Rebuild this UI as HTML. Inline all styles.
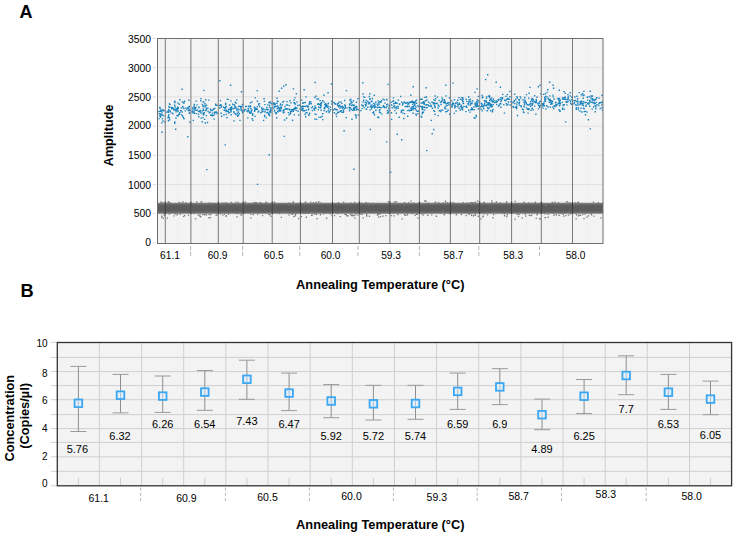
<!DOCTYPE html>
<html><head><meta charset="utf-8"><style>
html,body{margin:0;padding:0;background:#fff;}
svg{display:block;font-family:"Liberation Sans", sans-serif;}
</style></head><body>
<svg width="739" height="538" viewBox="0 0 739 538" font-family='"Liberation Sans", sans-serif' fill="#000">
<rect x="157.5" y="38.5" width="445.5" height="205.0" fill="#f3f3f3"/>
<line x1="157.5" y1="213.8" x2="603.0" y2="213.8" stroke="#e0e0e0" stroke-width="1"/>
<line x1="157.5" y1="184.6" x2="603.0" y2="184.6" stroke="#e0e0e0" stroke-width="1"/>
<line x1="157.5" y1="155.4" x2="603.0" y2="155.4" stroke="#e0e0e0" stroke-width="1"/>
<line x1="157.5" y1="126.1" x2="603.0" y2="126.1" stroke="#e0e0e0" stroke-width="1"/>
<line x1="157.5" y1="96.9" x2="603.0" y2="96.9" stroke="#e0e0e0" stroke-width="1"/>
<line x1="157.5" y1="67.7" x2="603.0" y2="67.7" stroke="#e0e0e0" stroke-width="1"/>
<line x1="161.4" y1="38.5" x2="161.4" y2="243.0" stroke="#e2e2e2" stroke-width="0.8" stroke-dasharray="1.5,2.5"/>
<line x1="178.1" y1="38.5" x2="178.1" y2="243.0" stroke="#e2e2e2" stroke-width="0.8" stroke-dasharray="1.5,2.5"/>
<line x1="204.6" y1="38.5" x2="204.6" y2="243.0" stroke="#e2e2e2" stroke-width="0.8" stroke-dasharray="1.5,2.5"/>
<line x1="230.8" y1="38.5" x2="230.8" y2="243.0" stroke="#e2e2e2" stroke-width="0.8" stroke-dasharray="1.5,2.5"/>
<line x1="257.7" y1="38.5" x2="257.7" y2="243.0" stroke="#e2e2e2" stroke-width="0.8" stroke-dasharray="1.5,2.5"/>
<line x1="286.3" y1="38.5" x2="286.3" y2="243.0" stroke="#e2e2e2" stroke-width="0.8" stroke-dasharray="1.5,2.5"/>
<line x1="316.4" y1="38.5" x2="316.4" y2="243.0" stroke="#e2e2e2" stroke-width="0.8" stroke-dasharray="1.5,2.5"/>
<line x1="345.9" y1="38.5" x2="345.9" y2="243.0" stroke="#e2e2e2" stroke-width="0.8" stroke-dasharray="1.5,2.5"/>
<line x1="374.6" y1="38.5" x2="374.6" y2="243.0" stroke="#e2e2e2" stroke-width="0.8" stroke-dasharray="1.5,2.5"/>
<line x1="404.6" y1="38.5" x2="404.6" y2="243.0" stroke="#e2e2e2" stroke-width="0.8" stroke-dasharray="1.5,2.5"/>
<line x1="434.9" y1="38.5" x2="434.9" y2="243.0" stroke="#e2e2e2" stroke-width="0.8" stroke-dasharray="1.5,2.5"/>
<line x1="465.0" y1="38.5" x2="465.0" y2="243.0" stroke="#e2e2e2" stroke-width="0.8" stroke-dasharray="1.5,2.5"/>
<line x1="495.6" y1="38.5" x2="495.6" y2="243.0" stroke="#e2e2e2" stroke-width="0.8" stroke-dasharray="1.5,2.5"/>
<line x1="526.5" y1="38.5" x2="526.5" y2="243.0" stroke="#e2e2e2" stroke-width="0.8" stroke-dasharray="1.5,2.5"/>
<line x1="556.9" y1="38.5" x2="556.9" y2="243.0" stroke="#e2e2e2" stroke-width="0.8" stroke-dasharray="1.5,2.5"/>
<line x1="587.8" y1="38.5" x2="587.8" y2="243.0" stroke="#e2e2e2" stroke-width="0.8" stroke-dasharray="1.5,2.5"/>
<defs><linearGradient id="gb" x1="0" y1="0" x2="0" y2="1"><stop offset="0" stop-color="#a0a0a0"/><stop offset="0.12" stop-color="#6c6c6c"/><stop offset="0.3" stop-color="#5c5c5c"/><stop offset="0.7" stop-color="#5c5c5c"/><stop offset="0.88" stop-color="#6c6c6c"/><stop offset="1" stop-color="#a0a0a0"/></linearGradient></defs>
<rect x="157.5" y="202.6" width="445.5" height="11.3" fill="url(#gb)"/>
<path d="M160.5 201.4h1.3v1.3h-1.3zM160.3 201.6h1.3v1.3h-1.3zM163.6 213.0h1.3v1.3h-1.3zM162.3 202.0h1.3v1.3h-1.3zM162.1 203.4h1.3v1.3h-1.3zM163.7 214.1h1.3v1.3h-1.3zM161.4 215.4h1.3v1.3h-1.3zM164.1 214.0h1.3v1.3h-1.3zM162.7 217.8h1.3v1.3h-1.3zM161.1 216.7h1.3v1.3h-1.3zM164.3 215.1h1.3v1.3h-1.3zM180.9 202.3h1.3v1.3h-1.3zM175.2 213.4h1.3v1.3h-1.3zM167.3 212.0h1.3v1.3h-1.3zM172.0 211.8h1.3v1.3h-1.3zM178.3 201.7h1.3v1.3h-1.3zM167.2 202.3h1.3v1.3h-1.3zM178.4 202.6h1.3v1.3h-1.3zM169.3 202.0h1.3v1.3h-1.3zM173.4 215.3h1.3v1.3h-1.3zM168.6 202.7h1.3v1.3h-1.3zM174.5 212.5h1.3v1.3h-1.3zM176.6 214.2h1.3v1.3h-1.3zM182.5 201.3h1.3v1.3h-1.3zM184.0 214.9h1.3v1.3h-1.3zM177.5 212.3h1.3v1.3h-1.3zM185.1 202.3h1.3v1.3h-1.3zM179.5 213.8h1.3v1.3h-1.3zM187.9 214.5h1.3v1.3h-1.3zM167.8 201.1h1.3v1.3h-1.3zM168.7 213.4h1.3v1.3h-1.3zM183.0 215.7h1.3v1.3h-1.3zM166.6 217.4h1.3v1.3h-1.3zM216.5 214.2h1.3v1.3h-1.3zM200.4 201.4h1.3v1.3h-1.3zM216.7 203.0h1.3v1.3h-1.3zM208.6 214.0h1.3v1.3h-1.3zM201.1 201.3h1.3v1.3h-1.3zM194.0 212.6h1.3v1.3h-1.3zM202.0 214.0h1.3v1.3h-1.3zM201.6 203.3h1.3v1.3h-1.3zM208.7 202.2h1.3v1.3h-1.3zM215.4 214.5h1.3v1.3h-1.3zM211.3 202.8h1.3v1.3h-1.3zM206.1 203.4h1.3v1.3h-1.3zM205.9 214.2h1.3v1.3h-1.3zM203.8 214.2h1.3v1.3h-1.3zM213.2 202.9h1.3v1.3h-1.3zM214.0 202.8h1.3v1.3h-1.3zM196.1 201.2h1.3v1.3h-1.3zM199.4 215.8h1.3v1.3h-1.3zM204.5 213.8h1.3v1.3h-1.3zM197.7 214.4h1.3v1.3h-1.3zM199.2 214.2h1.3v1.3h-1.3zM208.3 217.2h1.3v1.3h-1.3zM194.9 218.2h1.3v1.3h-1.3zM200.1 216.1h1.3v1.3h-1.3zM209.7 217.0h1.3v1.3h-1.3zM210.2 214.0h1.3v1.3h-1.3zM220.2 203.9h1.3v1.3h-1.3zM225.1 202.5h1.3v1.3h-1.3zM237.5 212.9h1.3v1.3h-1.3zM223.4 202.5h1.3v1.3h-1.3zM219.8 213.3h1.3v1.3h-1.3zM222.9 203.3h1.3v1.3h-1.3zM230.4 212.1h1.3v1.3h-1.3zM237.5 201.8h1.3v1.3h-1.3zM230.8 201.7h1.3v1.3h-1.3zM241.0 214.4h1.3v1.3h-1.3zM235.3 201.4h1.3v1.3h-1.3zM240.4 214.1h1.3v1.3h-1.3zM225.5 215.0h1.3v1.3h-1.3zM235.3 212.7h1.3v1.3h-1.3zM226.3 202.6h1.3v1.3h-1.3zM227.8 213.8h1.3v1.3h-1.3zM223.9 213.5h1.3v1.3h-1.3zM222.1 214.5h1.3v1.3h-1.3zM221.3 202.5h1.3v1.3h-1.3zM225.5 215.6h1.3v1.3h-1.3zM236.3 216.2h1.3v1.3h-1.3zM269.3 214.3h1.3v1.3h-1.3zM260.1 201.9h1.3v1.3h-1.3zM256.5 202.5h1.3v1.3h-1.3zM259.5 201.9h1.3v1.3h-1.3zM270.3 215.8h1.3v1.3h-1.3zM244.9 201.8h1.3v1.3h-1.3zM252.6 214.0h1.3v1.3h-1.3zM265.9 202.1h1.3v1.3h-1.3zM265.3 201.5h1.3v1.3h-1.3zM244.6 201.5h1.3v1.3h-1.3zM255.0 202.5h1.3v1.3h-1.3zM253.5 202.1h1.3v1.3h-1.3zM266.8 203.0h1.3v1.3h-1.3zM250.7 202.8h1.3v1.3h-1.3zM257.2 213.5h1.3v1.3h-1.3zM250.3 213.5h1.3v1.3h-1.3zM253.7 202.6h1.3v1.3h-1.3zM270.9 203.5h1.3v1.3h-1.3zM268.2 213.8h1.3v1.3h-1.3zM265.4 202.1h1.3v1.3h-1.3zM245.9 203.1h1.3v1.3h-1.3zM255.2 202.0h1.3v1.3h-1.3zM261.9 215.0h1.3v1.3h-1.3zM250.2 217.5h1.3v1.3h-1.3zM286.3 203.0h1.3v1.3h-1.3zM288.6 202.6h1.3v1.3h-1.3zM294.4 215.3h1.3v1.3h-1.3zM288.4 214.5h1.3v1.3h-1.3zM293.7 203.9h1.3v1.3h-1.3zM292.2 213.0h1.3v1.3h-1.3zM293.2 216.0h1.3v1.3h-1.3zM291.6 213.6h1.3v1.3h-1.3zM273.5 201.5h1.3v1.3h-1.3zM292.7 201.9h1.3v1.3h-1.3zM295.3 213.1h1.3v1.3h-1.3zM288.2 212.4h1.3v1.3h-1.3zM276.1 203.3h1.3v1.3h-1.3zM292.5 203.1h1.3v1.3h-1.3zM284.2 211.9h1.3v1.3h-1.3zM292.6 201.2h1.3v1.3h-1.3zM274.3 202.6h1.3v1.3h-1.3zM279.0 212.9h1.3v1.3h-1.3zM288.0 204.0h1.3v1.3h-1.3zM283.0 211.7h1.3v1.3h-1.3zM294.7 213.9h1.3v1.3h-1.3zM290.3 212.9h1.3v1.3h-1.3zM280.6 216.7h1.3v1.3h-1.3zM298.1 218.0h1.3v1.3h-1.3zM315.3 201.7h1.3v1.3h-1.3zM311.0 214.6h1.3v1.3h-1.3zM319.8 214.1h1.3v1.3h-1.3zM306.5 203.0h1.3v1.3h-1.3zM304.4 202.2h1.3v1.3h-1.3zM312.7 202.0h1.3v1.3h-1.3zM307.6 212.6h1.3v1.3h-1.3zM310.2 201.5h1.3v1.3h-1.3zM327.1 203.2h1.3v1.3h-1.3zM300.7 216.0h1.3v1.3h-1.3zM318.1 201.5h1.3v1.3h-1.3zM331.0 211.8h1.3v1.3h-1.3zM304.9 212.8h1.3v1.3h-1.3zM303.0 212.8h1.3v1.3h-1.3zM311.8 212.3h1.3v1.3h-1.3zM329.6 213.2h1.3v1.3h-1.3zM315.9 202.2h1.3v1.3h-1.3zM317.9 200.9h1.3v1.3h-1.3zM323.1 213.3h1.3v1.3h-1.3zM315.6 213.7h1.3v1.3h-1.3zM305.2 201.3h1.3v1.3h-1.3zM331.4 214.9h1.3v1.3h-1.3zM320.0 202.4h1.3v1.3h-1.3zM313.7 213.4h1.3v1.3h-1.3zM315.9 213.4h1.3v1.3h-1.3zM305.7 216.6h1.3v1.3h-1.3zM326.1 217.6h1.3v1.3h-1.3zM311.4 214.6h1.3v1.3h-1.3zM316.6 217.9h1.3v1.3h-1.3zM336.9 212.9h1.3v1.3h-1.3zM355.9 212.1h1.3v1.3h-1.3zM357.3 214.5h1.3v1.3h-1.3zM337.8 201.9h1.3v1.3h-1.3zM350.2 214.3h1.3v1.3h-1.3zM339.6 215.9h1.3v1.3h-1.3zM345.6 214.0h1.3v1.3h-1.3zM333.9 214.9h1.3v1.3h-1.3zM352.0 214.6h1.3v1.3h-1.3zM346.3 215.1h1.3v1.3h-1.3zM344.3 213.7h1.3v1.3h-1.3zM341.8 203.0h1.3v1.3h-1.3zM355.4 213.3h1.3v1.3h-1.3zM354.1 201.8h1.3v1.3h-1.3zM349.2 203.5h1.3v1.3h-1.3zM352.6 215.2h1.3v1.3h-1.3zM343.0 201.5h1.3v1.3h-1.3zM351.0 215.0h1.3v1.3h-1.3zM349.9 213.3h1.3v1.3h-1.3zM350.2 202.6h1.3v1.3h-1.3zM354.5 212.3h1.3v1.3h-1.3zM347.4 215.2h1.3v1.3h-1.3zM354.3 217.5h1.3v1.3h-1.3zM354.2 214.7h1.3v1.3h-1.3zM379.3 212.3h1.3v1.3h-1.3zM385.9 211.6h1.3v1.3h-1.3zM385.3 214.9h1.3v1.3h-1.3zM377.5 214.0h1.3v1.3h-1.3zM377.4 213.1h1.3v1.3h-1.3zM379.4 213.3h1.3v1.3h-1.3zM360.3 213.5h1.3v1.3h-1.3zM366.0 214.1h1.3v1.3h-1.3zM367.7 203.2h1.3v1.3h-1.3zM360.8 202.5h1.3v1.3h-1.3zM368.2 204.4h1.3v1.3h-1.3zM366.0 202.5h1.3v1.3h-1.3zM366.1 215.4h1.3v1.3h-1.3zM372.0 203.5h1.3v1.3h-1.3zM376.7 214.4h1.3v1.3h-1.3zM366.2 210.9h1.3v1.3h-1.3zM387.8 201.0h1.3v1.3h-1.3zM378.4 213.1h1.3v1.3h-1.3zM365.2 202.0h1.3v1.3h-1.3zM367.9 202.8h1.3v1.3h-1.3zM372.5 202.8h1.3v1.3h-1.3zM382.3 215.4h1.3v1.3h-1.3zM381.5 204.2h1.3v1.3h-1.3zM361.4 213.8h1.3v1.3h-1.3zM378.0 216.5h1.3v1.3h-1.3zM368.8 215.6h1.3v1.3h-1.3zM362.7 217.3h1.3v1.3h-1.3zM379.9 215.9h1.3v1.3h-1.3zM391.0 211.8h1.3v1.3h-1.3zM393.2 215.2h1.3v1.3h-1.3zM403.9 214.1h1.3v1.3h-1.3zM403.6 202.5h1.3v1.3h-1.3zM405.1 214.7h1.3v1.3h-1.3zM397.3 213.9h1.3v1.3h-1.3zM416.9 213.5h1.3v1.3h-1.3zM394.7 203.1h1.3v1.3h-1.3zM390.6 215.0h1.3v1.3h-1.3zM391.0 203.2h1.3v1.3h-1.3zM403.3 204.1h1.3v1.3h-1.3zM414.4 214.8h1.3v1.3h-1.3zM403.9 201.9h1.3v1.3h-1.3zM396.0 201.2h1.3v1.3h-1.3zM406.9 214.1h1.3v1.3h-1.3zM406.3 212.8h1.3v1.3h-1.3zM411.7 212.9h1.3v1.3h-1.3zM395.0 201.3h1.3v1.3h-1.3zM410.4 200.5h1.3v1.3h-1.3zM393.5 201.4h1.3v1.3h-1.3zM412.8 202.4h1.3v1.3h-1.3zM408.1 202.3h1.3v1.3h-1.3zM415.8 213.6h1.3v1.3h-1.3zM401.5 218.2h1.3v1.3h-1.3zM417.3 217.5h1.3v1.3h-1.3zM421.0 213.1h1.3v1.3h-1.3zM427.5 202.4h1.3v1.3h-1.3zM442.3 202.6h1.3v1.3h-1.3zM443.7 202.9h1.3v1.3h-1.3zM434.8 203.2h1.3v1.3h-1.3zM421.8 203.6h1.3v1.3h-1.3zM434.6 201.4h1.3v1.3h-1.3zM440.7 212.3h1.3v1.3h-1.3zM431.5 203.8h1.3v1.3h-1.3zM425.3 200.6h1.3v1.3h-1.3zM423.3 213.0h1.3v1.3h-1.3zM448.9 213.3h1.3v1.3h-1.3zM439.8 202.9h1.3v1.3h-1.3zM422.4 214.5h1.3v1.3h-1.3zM424.1 200.3h1.3v1.3h-1.3zM419.9 202.7h1.3v1.3h-1.3zM435.1 201.4h1.3v1.3h-1.3zM446.9 202.1h1.3v1.3h-1.3zM444.6 202.3h1.3v1.3h-1.3zM444.9 200.6h1.3v1.3h-1.3zM438.1 202.1h1.3v1.3h-1.3zM427.2 214.6h1.3v1.3h-1.3zM431.1 214.2h1.3v1.3h-1.3zM442.3 210.6h1.3v1.3h-1.3zM443.6 214.1h1.3v1.3h-1.3zM435.7 215.5h1.3v1.3h-1.3zM435.9 215.6h1.3v1.3h-1.3zM443.9 214.0h1.3v1.3h-1.3zM472.3 202.4h1.3v1.3h-1.3zM465.6 214.9h1.3v1.3h-1.3zM462.6 202.1h1.3v1.3h-1.3zM477.7 202.9h1.3v1.3h-1.3zM477.0 200.6h1.3v1.3h-1.3zM468.8 202.6h1.3v1.3h-1.3zM470.7 201.9h1.3v1.3h-1.3zM467.8 213.2h1.3v1.3h-1.3zM471.8 202.3h1.3v1.3h-1.3zM453.3 203.2h1.3v1.3h-1.3zM469.1 212.6h1.3v1.3h-1.3zM452.9 202.2h1.3v1.3h-1.3zM460.8 214.0h1.3v1.3h-1.3zM468.9 213.5h1.3v1.3h-1.3zM455.7 214.1h1.3v1.3h-1.3zM470.2 203.6h1.3v1.3h-1.3zM474.8 201.5h1.3v1.3h-1.3zM451.6 202.6h1.3v1.3h-1.3zM473.2 202.0h1.3v1.3h-1.3zM474.4 213.8h1.3v1.3h-1.3zM469.2 202.5h1.3v1.3h-1.3zM474.1 202.9h1.3v1.3h-1.3zM466.6 202.4h1.3v1.3h-1.3zM474.6 214.6h1.3v1.3h-1.3zM477.7 215.6h1.3v1.3h-1.3zM470.9 214.6h1.3v1.3h-1.3zM472.8 215.1h1.3v1.3h-1.3zM491.2 201.9h1.3v1.3h-1.3zM507.8 203.1h1.3v1.3h-1.3zM486.9 214.3h1.3v1.3h-1.3zM506.1 215.9h1.3v1.3h-1.3zM506.6 214.1h1.3v1.3h-1.3zM487.2 203.3h1.3v1.3h-1.3zM483.4 213.2h1.3v1.3h-1.3zM483.6 201.7h1.3v1.3h-1.3zM493.0 213.9h1.3v1.3h-1.3zM491.1 200.2h1.3v1.3h-1.3zM482.2 215.4h1.3v1.3h-1.3zM483.4 203.3h1.3v1.3h-1.3zM496.0 201.5h1.3v1.3h-1.3zM482.5 216.1h1.3v1.3h-1.3zM504.0 215.1h1.3v1.3h-1.3zM483.0 202.0h1.3v1.3h-1.3zM483.7 203.3h1.3v1.3h-1.3zM495.6 201.2h1.3v1.3h-1.3zM499.7 202.2h1.3v1.3h-1.3zM503.6 213.1h1.3v1.3h-1.3zM484.4 203.0h1.3v1.3h-1.3zM506.2 201.0h1.3v1.3h-1.3zM501.4 203.3h1.3v1.3h-1.3zM493.8 202.7h1.3v1.3h-1.3zM505.7 202.0h1.3v1.3h-1.3zM492.3 217.1h1.3v1.3h-1.3zM480.4 218.3h1.3v1.3h-1.3zM518.5 213.8h1.3v1.3h-1.3zM531.0 202.8h1.3v1.3h-1.3zM535.6 217.7h1.3v1.3h-1.3zM519.6 203.8h1.3v1.3h-1.3zM523.5 201.6h1.3v1.3h-1.3zM528.0 202.4h1.3v1.3h-1.3zM516.3 212.2h1.3v1.3h-1.3zM527.9 202.2h1.3v1.3h-1.3zM527.9 202.2h1.3v1.3h-1.3zM540.3 202.8h1.3v1.3h-1.3zM516.7 213.8h1.3v1.3h-1.3zM534.3 202.3h1.3v1.3h-1.3zM536.3 213.4h1.3v1.3h-1.3zM514.6 200.8h1.3v1.3h-1.3zM537.6 203.7h1.3v1.3h-1.3zM536.6 214.2h1.3v1.3h-1.3zM534.8 201.7h1.3v1.3h-1.3zM524.6 213.6h1.3v1.3h-1.3zM537.4 202.9h1.3v1.3h-1.3zM528.7 214.7h1.3v1.3h-1.3zM530.2 215.0h1.3v1.3h-1.3zM531.1 214.4h1.3v1.3h-1.3zM517.9 215.8h1.3v1.3h-1.3zM521.6 217.4h1.3v1.3h-1.3zM539.0 218.0h1.3v1.3h-1.3zM525.1 215.5h1.3v1.3h-1.3zM539.5 218.4h1.3v1.3h-1.3zM514.4 218.4h1.3v1.3h-1.3zM557.8 201.9h1.3v1.3h-1.3zM552.7 212.6h1.3v1.3h-1.3zM564.5 202.7h1.3v1.3h-1.3zM567.9 214.5h1.3v1.3h-1.3zM560.0 212.6h1.3v1.3h-1.3zM569.8 213.1h1.3v1.3h-1.3zM551.0 202.8h1.3v1.3h-1.3zM553.4 214.6h1.3v1.3h-1.3zM566.6 201.5h1.3v1.3h-1.3zM552.6 203.1h1.3v1.3h-1.3zM566.2 200.9h1.3v1.3h-1.3zM547.5 213.7h1.3v1.3h-1.3zM542.5 202.8h1.3v1.3h-1.3zM562.4 213.6h1.3v1.3h-1.3zM568.5 202.4h1.3v1.3h-1.3zM545.0 204.5h1.3v1.3h-1.3zM555.6 214.1h1.3v1.3h-1.3zM554.1 201.6h1.3v1.3h-1.3zM569.3 202.2h1.3v1.3h-1.3zM560.3 212.8h1.3v1.3h-1.3zM551.8 201.7h1.3v1.3h-1.3zM564.1 212.6h1.3v1.3h-1.3zM563.0 215.5h1.3v1.3h-1.3zM544.4 213.2h1.3v1.3h-1.3zM565.3 215.0h1.3v1.3h-1.3zM544.4 217.0h1.3v1.3h-1.3zM558.5 214.6h1.3v1.3h-1.3zM547.4 216.6h1.3v1.3h-1.3zM544.8 216.9h1.3v1.3h-1.3zM579.8 214.8h1.3v1.3h-1.3zM594.0 203.7h1.3v1.3h-1.3zM587.8 215.3h1.3v1.3h-1.3zM590.7 213.2h1.3v1.3h-1.3zM601.9 202.7h1.3v1.3h-1.3zM579.4 211.6h1.3v1.3h-1.3zM584.4 213.5h1.3v1.3h-1.3zM575.4 203.3h1.3v1.3h-1.3zM577.9 201.8h1.3v1.3h-1.3zM578.6 214.5h1.3v1.3h-1.3zM592.8 201.5h1.3v1.3h-1.3zM575.9 214.1h1.3v1.3h-1.3zM574.7 212.4h1.3v1.3h-1.3zM582.1 213.9h1.3v1.3h-1.3zM588.4 211.9h1.3v1.3h-1.3zM590.9 214.3h1.3v1.3h-1.3zM576.7 203.7h1.3v1.3h-1.3zM574.6 202.2h1.3v1.3h-1.3zM597.7 201.9h1.3v1.3h-1.3zM577.0 201.8h1.3v1.3h-1.3zM573.7 203.4h1.3v1.3h-1.3zM593.2 215.5h1.3v1.3h-1.3zM577.7 215.3h1.3v1.3h-1.3zM583.4 218.0h1.3v1.3h-1.3zM586.2 216.5h1.3v1.3h-1.3zM575.5 218.2h1.3v1.3h-1.3zM600.2 217.2h1.3v1.3h-1.3z" fill="#787878"/>
<path d="M160.0 116.4h1.4v1.4h-1.4zM158.4 117.9h1.4v1.4h-1.4zM161.3 111.4h1.4v1.4h-1.4zM161.1 113.7h1.4v1.4h-1.4zM158.2 110.9h1.4v1.4h-1.4zM158.6 113.2h1.4v1.4h-1.4zM160.6 113.6h1.4v1.4h-1.4zM159.4 110.4h1.4v1.4h-1.4zM161.8 118.2h1.4v1.4h-1.4zM160.4 110.6h1.4v1.4h-1.4zM164.0 121.2h1.4v1.4h-1.4zM159.8 115.1h1.4v1.4h-1.4zM158.9 115.4h1.4v1.4h-1.4zM163.0 115.2h1.4v1.4h-1.4zM159.1 106.8h1.4v1.4h-1.4zM160.3 109.3h1.4v1.4h-1.4zM161.3 114.0h1.4v1.4h-1.4zM159.3 113.1h1.4v1.4h-1.4zM162.2 108.9h1.4v1.4h-1.4zM161.6 114.3h1.4v1.4h-1.4zM160.8 110.0h1.4v1.4h-1.4zM162.3 120.3h1.4v1.4h-1.4zM159.5 107.5h1.4v1.4h-1.4zM163.3 110.0h1.4v1.4h-1.4zM162.4 109.5h1.4v1.4h-1.4zM161.1 122.2h1.4v1.4h-1.4zM174.0 122.5h1.4v1.4h-1.4zM188.1 99.6h1.4v1.4h-1.4zM167.7 115.6h1.4v1.4h-1.4zM179.1 112.1h1.4v1.4h-1.4zM173.9 101.8h1.4v1.4h-1.4zM174.2 101.8h1.4v1.4h-1.4zM167.4 110.2h1.4v1.4h-1.4zM168.0 109.1h1.4v1.4h-1.4zM167.4 117.1h1.4v1.4h-1.4zM183.3 107.8h1.4v1.4h-1.4zM182.1 115.6h1.4v1.4h-1.4zM176.5 108.0h1.4v1.4h-1.4zM174.1 100.6h1.4v1.4h-1.4zM188.3 106.1h1.4v1.4h-1.4zM177.6 115.0h1.4v1.4h-1.4zM171.0 108.2h1.4v1.4h-1.4zM175.3 117.3h1.4v1.4h-1.4zM187.7 107.2h1.4v1.4h-1.4zM175.4 110.1h1.4v1.4h-1.4zM172.4 113.2h1.4v1.4h-1.4zM179.0 113.7h1.4v1.4h-1.4zM182.7 116.9h1.4v1.4h-1.4zM174.9 109.4h1.4v1.4h-1.4zM171.3 112.3h1.4v1.4h-1.4zM181.5 111.3h1.4v1.4h-1.4zM166.1 111.4h1.4v1.4h-1.4zM172.5 107.5h1.4v1.4h-1.4zM169.3 103.8h1.4v1.4h-1.4zM173.4 108.6h1.4v1.4h-1.4zM168.8 117.1h1.4v1.4h-1.4zM181.5 101.3h1.4v1.4h-1.4zM183.5 101.0h1.4v1.4h-1.4zM188.6 112.5h1.4v1.4h-1.4zM182.1 105.7h1.4v1.4h-1.4zM175.2 108.3h1.4v1.4h-1.4zM177.3 107.6h1.4v1.4h-1.4zM189.3 111.8h1.4v1.4h-1.4zM176.3 114.8h1.4v1.4h-1.4zM168.2 114.0h1.4v1.4h-1.4zM179.3 99.1h1.4v1.4h-1.4zM180.5 107.4h1.4v1.4h-1.4zM167.5 111.2h1.4v1.4h-1.4zM181.0 114.3h1.4v1.4h-1.4zM188.6 105.8h1.4v1.4h-1.4zM168.6 106.9h1.4v1.4h-1.4zM177.5 115.2h1.4v1.4h-1.4zM173.3 109.3h1.4v1.4h-1.4zM169.2 110.0h1.4v1.4h-1.4zM177.2 102.4h1.4v1.4h-1.4zM182.3 106.9h1.4v1.4h-1.4zM188.6 109.7h1.4v1.4h-1.4zM174.4 106.3h1.4v1.4h-1.4zM183.9 100.5h1.4v1.4h-1.4zM172.9 108.7h1.4v1.4h-1.4zM186.0 108.4h1.4v1.4h-1.4zM178.2 113.6h1.4v1.4h-1.4zM171.1 107.6h1.4v1.4h-1.4zM178.7 103.5h1.4v1.4h-1.4zM180.5 109.9h1.4v1.4h-1.4zM184.6 110.2h1.4v1.4h-1.4zM171.5 107.0h1.4v1.4h-1.4zM175.4 111.0h1.4v1.4h-1.4zM177.6 107.1h1.4v1.4h-1.4zM183.3 118.1h1.4v1.4h-1.4zM177.1 109.5h1.4v1.4h-1.4zM170.4 106.7h1.4v1.4h-1.4zM185.1 107.4h1.4v1.4h-1.4zM183.1 102.7h1.4v1.4h-1.4zM167.7 120.1h1.4v1.4h-1.4zM168.2 105.9h1.4v1.4h-1.4zM177.3 110.8h1.4v1.4h-1.4zM189.3 109.8h1.4v1.4h-1.4zM187.5 109.8h1.4v1.4h-1.4zM174.0 104.6h1.4v1.4h-1.4zM168.7 103.2h1.4v1.4h-1.4zM175.1 109.3h1.4v1.4h-1.4zM187.0 107.0h1.4v1.4h-1.4zM176.2 108.7h1.4v1.4h-1.4zM188.4 108.5h1.4v1.4h-1.4zM183.1 102.6h1.4v1.4h-1.4zM167.8 111.7h1.4v1.4h-1.4zM169.6 111.1h1.4v1.4h-1.4zM179.9 110.0h1.4v1.4h-1.4zM176.9 106.5h1.4v1.4h-1.4zM189.2 121.6h1.4v1.4h-1.4zM174.2 121.2h1.4v1.4h-1.4zM168.9 119.1h1.4v1.4h-1.4zM216.4 104.7h1.4v1.4h-1.4zM208.1 99.4h1.4v1.4h-1.4zM202.5 108.2h1.4v1.4h-1.4zM213.8 111.5h1.4v1.4h-1.4zM197.9 107.2h1.4v1.4h-1.4zM198.9 110.4h1.4v1.4h-1.4zM198.1 116.1h1.4v1.4h-1.4zM202.2 116.9h1.4v1.4h-1.4zM200.5 117.4h1.4v1.4h-1.4zM203.2 101.4h1.4v1.4h-1.4zM202.2 105.0h1.4v1.4h-1.4zM215.0 104.3h1.4v1.4h-1.4zM204.9 109.9h1.4v1.4h-1.4zM191.9 107.3h1.4v1.4h-1.4zM191.5 111.1h1.4v1.4h-1.4zM211.9 112.4h1.4v1.4h-1.4zM210.0 114.6h1.4v1.4h-1.4zM205.7 107.4h1.4v1.4h-1.4zM205.7 114.9h1.4v1.4h-1.4zM211.6 114.6h1.4v1.4h-1.4zM197.8 113.6h1.4v1.4h-1.4zM198.5 110.8h1.4v1.4h-1.4zM205.8 104.6h1.4v1.4h-1.4zM210.9 114.2h1.4v1.4h-1.4zM207.1 107.4h1.4v1.4h-1.4zM204.4 103.0h1.4v1.4h-1.4zM203.0 109.5h1.4v1.4h-1.4zM205.1 99.1h1.4v1.4h-1.4zM209.4 111.5h1.4v1.4h-1.4zM213.9 113.3h1.4v1.4h-1.4zM205.8 108.7h1.4v1.4h-1.4zM215.6 111.3h1.4v1.4h-1.4zM194.5 107.9h1.4v1.4h-1.4zM202.8 113.1h1.4v1.4h-1.4zM193.3 111.5h1.4v1.4h-1.4zM208.6 112.1h1.4v1.4h-1.4zM195.4 100.4h1.4v1.4h-1.4zM209.8 108.6h1.4v1.4h-1.4zM214.1 107.8h1.4v1.4h-1.4zM216.3 112.2h1.4v1.4h-1.4zM201.6 121.1h1.4v1.4h-1.4zM203.9 118.7h1.4v1.4h-1.4zM195.5 109.4h1.4v1.4h-1.4zM202.5 105.8h1.4v1.4h-1.4zM196.4 109.6h1.4v1.4h-1.4zM199.6 109.8h1.4v1.4h-1.4zM205.6 109.1h1.4v1.4h-1.4zM202.7 114.1h1.4v1.4h-1.4zM207.4 110.5h1.4v1.4h-1.4zM204.6 122.3h1.4v1.4h-1.4zM211.7 115.2h1.4v1.4h-1.4zM216.4 112.9h1.4v1.4h-1.4zM192.4 112.2h1.4v1.4h-1.4zM211.4 109.7h1.4v1.4h-1.4zM202.3 112.4h1.4v1.4h-1.4zM214.8 111.5h1.4v1.4h-1.4zM195.2 106.8h1.4v1.4h-1.4zM215.0 103.5h1.4v1.4h-1.4zM193.7 106.9h1.4v1.4h-1.4zM192.9 108.2h1.4v1.4h-1.4zM193.3 105.5h1.4v1.4h-1.4zM215.5 104.5h1.4v1.4h-1.4zM193.6 103.8h1.4v1.4h-1.4zM213.4 118.4h1.4v1.4h-1.4zM203.1 113.7h1.4v1.4h-1.4zM200.1 100.1h1.4v1.4h-1.4zM198.3 106.6h1.4v1.4h-1.4zM194.7 106.7h1.4v1.4h-1.4zM194.2 109.4h1.4v1.4h-1.4zM195.5 112.9h1.4v1.4h-1.4zM199.4 111.0h1.4v1.4h-1.4zM199.2 110.2h1.4v1.4h-1.4zM204.3 106.2h1.4v1.4h-1.4zM196.0 109.5h1.4v1.4h-1.4zM197.8 110.7h1.4v1.4h-1.4zM191.8 109.4h1.4v1.4h-1.4zM196.3 104.2h1.4v1.4h-1.4zM203.6 112.0h1.4v1.4h-1.4zM212.4 109.1h1.4v1.4h-1.4zM202.5 101.3h1.4v1.4h-1.4zM201.5 110.3h1.4v1.4h-1.4zM204.4 105.0h1.4v1.4h-1.4zM200.2 97.9h1.4v1.4h-1.4zM212.8 108.2h1.4v1.4h-1.4zM201.8 103.7h1.4v1.4h-1.4zM200.3 112.3h1.4v1.4h-1.4zM193.2 110.8h1.4v1.4h-1.4zM210.4 109.9h1.4v1.4h-1.4zM193.6 112.7h1.4v1.4h-1.4zM213.0 114.7h1.4v1.4h-1.4zM206.8 121.8h1.4v1.4h-1.4zM192.6 119.7h1.4v1.4h-1.4zM225.0 102.5h1.4v1.4h-1.4zM218.9 104.8h1.4v1.4h-1.4zM241.6 110.6h1.4v1.4h-1.4zM226.3 116.8h1.4v1.4h-1.4zM223.9 109.5h1.4v1.4h-1.4zM223.0 106.5h1.4v1.4h-1.4zM225.3 109.2h1.4v1.4h-1.4zM234.0 107.6h1.4v1.4h-1.4zM220.9 115.5h1.4v1.4h-1.4zM237.8 111.3h1.4v1.4h-1.4zM227.9 112.3h1.4v1.4h-1.4zM225.8 106.2h1.4v1.4h-1.4zM241.0 106.1h1.4v1.4h-1.4zM238.6 113.0h1.4v1.4h-1.4zM237.0 115.5h1.4v1.4h-1.4zM232.6 108.2h1.4v1.4h-1.4zM230.3 100.2h1.4v1.4h-1.4zM225.4 105.6h1.4v1.4h-1.4zM237.9 105.8h1.4v1.4h-1.4zM235.4 102.6h1.4v1.4h-1.4zM235.1 107.1h1.4v1.4h-1.4zM230.5 114.0h1.4v1.4h-1.4zM232.0 103.4h1.4v1.4h-1.4zM237.7 114.5h1.4v1.4h-1.4zM237.3 108.2h1.4v1.4h-1.4zM235.3 113.9h1.4v1.4h-1.4zM220.8 105.7h1.4v1.4h-1.4zM219.8 99.9h1.4v1.4h-1.4zM227.5 98.7h1.4v1.4h-1.4zM229.3 108.4h1.4v1.4h-1.4zM231.1 107.8h1.4v1.4h-1.4zM224.5 107.1h1.4v1.4h-1.4zM220.4 112.6h1.4v1.4h-1.4zM240.4 109.1h1.4v1.4h-1.4zM231.0 106.3h1.4v1.4h-1.4zM236.1 99.2h1.4v1.4h-1.4zM238.4 108.9h1.4v1.4h-1.4zM224.2 107.6h1.4v1.4h-1.4zM233.9 104.2h1.4v1.4h-1.4zM229.5 108.5h1.4v1.4h-1.4zM239.9 106.0h1.4v1.4h-1.4zM225.5 113.7h1.4v1.4h-1.4zM223.4 109.4h1.4v1.4h-1.4zM232.7 104.2h1.4v1.4h-1.4zM234.9 113.3h1.4v1.4h-1.4zM233.2 111.0h1.4v1.4h-1.4zM230.1 111.4h1.4v1.4h-1.4zM241.4 110.1h1.4v1.4h-1.4zM230.2 109.4h1.4v1.4h-1.4zM235.2 106.4h1.4v1.4h-1.4zM236.6 112.5h1.4v1.4h-1.4zM241.8 103.7h1.4v1.4h-1.4zM220.8 106.3h1.4v1.4h-1.4zM229.8 107.0h1.4v1.4h-1.4zM230.6 109.3h1.4v1.4h-1.4zM241.9 112.0h1.4v1.4h-1.4zM240.1 107.3h1.4v1.4h-1.4zM240.4 109.3h1.4v1.4h-1.4zM236.1 108.4h1.4v1.4h-1.4zM224.9 103.5h1.4v1.4h-1.4zM233.5 112.3h1.4v1.4h-1.4zM225.3 110.8h1.4v1.4h-1.4zM230.4 110.4h1.4v1.4h-1.4zM239.1 105.4h1.4v1.4h-1.4zM240.8 109.2h1.4v1.4h-1.4zM234.6 101.4h1.4v1.4h-1.4zM228.5 111.7h1.4v1.4h-1.4zM227.5 110.5h1.4v1.4h-1.4zM226.3 110.3h1.4v1.4h-1.4zM226.6 98.7h1.4v1.4h-1.4zM223.3 114.0h1.4v1.4h-1.4zM219.1 107.3h1.4v1.4h-1.4zM220.3 104.0h1.4v1.4h-1.4zM227.9 108.8h1.4v1.4h-1.4zM240.3 106.2h1.4v1.4h-1.4zM236.3 109.8h1.4v1.4h-1.4zM220.0 104.5h1.4v1.4h-1.4zM234.2 105.8h1.4v1.4h-1.4zM241.3 105.5h1.4v1.4h-1.4zM228.9 104.3h1.4v1.4h-1.4zM237.0 114.8h1.4v1.4h-1.4zM239.3 119.7h1.4v1.4h-1.4zM233.4 120.2h1.4v1.4h-1.4zM269.4 101.0h1.4v1.4h-1.4zM245.1 105.8h1.4v1.4h-1.4zM263.7 100.7h1.4v1.4h-1.4zM261.3 110.3h1.4v1.4h-1.4zM251.5 118.0h1.4v1.4h-1.4zM247.2 111.2h1.4v1.4h-1.4zM256.6 105.9h1.4v1.4h-1.4zM263.9 111.2h1.4v1.4h-1.4zM270.4 107.6h1.4v1.4h-1.4zM251.9 114.7h1.4v1.4h-1.4zM258.9 105.8h1.4v1.4h-1.4zM248.1 109.7h1.4v1.4h-1.4zM249.4 112.5h1.4v1.4h-1.4zM249.7 105.0h1.4v1.4h-1.4zM268.4 113.0h1.4v1.4h-1.4zM247.5 107.9h1.4v1.4h-1.4zM249.0 111.5h1.4v1.4h-1.4zM246.2 110.3h1.4v1.4h-1.4zM250.2 107.7h1.4v1.4h-1.4zM267.9 114.0h1.4v1.4h-1.4zM264.2 103.9h1.4v1.4h-1.4zM258.0 110.5h1.4v1.4h-1.4zM254.0 107.1h1.4v1.4h-1.4zM251.3 109.4h1.4v1.4h-1.4zM270.1 111.8h1.4v1.4h-1.4zM260.9 111.9h1.4v1.4h-1.4zM267.3 108.8h1.4v1.4h-1.4zM250.5 111.6h1.4v1.4h-1.4zM254.6 97.2h1.4v1.4h-1.4zM266.9 111.8h1.4v1.4h-1.4zM267.5 109.2h1.4v1.4h-1.4zM263.1 108.2h1.4v1.4h-1.4zM268.2 102.0h1.4v1.4h-1.4zM243.7 109.0h1.4v1.4h-1.4zM254.4 115.7h1.4v1.4h-1.4zM267.1 104.2h1.4v1.4h-1.4zM270.2 108.0h1.4v1.4h-1.4zM247.9 110.2h1.4v1.4h-1.4zM258.0 103.5h1.4v1.4h-1.4zM263.4 98.0h1.4v1.4h-1.4zM261.4 108.5h1.4v1.4h-1.4zM258.8 102.9h1.4v1.4h-1.4zM244.8 108.7h1.4v1.4h-1.4zM268.8 104.7h1.4v1.4h-1.4zM261.3 107.2h1.4v1.4h-1.4zM250.6 110.3h1.4v1.4h-1.4zM261.1 107.3h1.4v1.4h-1.4zM245.6 105.9h1.4v1.4h-1.4zM258.0 104.0h1.4v1.4h-1.4zM249.8 105.7h1.4v1.4h-1.4zM260.1 111.9h1.4v1.4h-1.4zM256.3 108.3h1.4v1.4h-1.4zM269.9 102.1h1.4v1.4h-1.4zM256.7 100.5h1.4v1.4h-1.4zM250.1 108.2h1.4v1.4h-1.4zM262.9 119.7h1.4v1.4h-1.4zM252.1 113.4h1.4v1.4h-1.4zM262.1 108.7h1.4v1.4h-1.4zM255.2 107.7h1.4v1.4h-1.4zM269.0 114.8h1.4v1.4h-1.4zM249.9 112.1h1.4v1.4h-1.4zM255.2 108.9h1.4v1.4h-1.4zM262.3 110.6h1.4v1.4h-1.4zM263.9 115.8h1.4v1.4h-1.4zM257.5 111.4h1.4v1.4h-1.4zM252.2 119.7h1.4v1.4h-1.4zM266.1 108.4h1.4v1.4h-1.4zM264.5 111.2h1.4v1.4h-1.4zM251.8 113.1h1.4v1.4h-1.4zM248.8 106.4h1.4v1.4h-1.4zM249.8 102.1h1.4v1.4h-1.4zM269.6 111.4h1.4v1.4h-1.4zM247.7 105.5h1.4v1.4h-1.4zM270.3 110.0h1.4v1.4h-1.4zM247.6 109.5h1.4v1.4h-1.4zM254.4 108.5h1.4v1.4h-1.4zM268.2 113.6h1.4v1.4h-1.4zM270.9 103.0h1.4v1.4h-1.4zM269.1 106.6h1.4v1.4h-1.4zM269.2 110.6h1.4v1.4h-1.4zM264.1 114.7h1.4v1.4h-1.4zM254.0 109.4h1.4v1.4h-1.4zM253.9 106.6h1.4v1.4h-1.4zM243.8 110.4h1.4v1.4h-1.4zM251.3 101.2h1.4v1.4h-1.4zM247.1 117.2h1.4v1.4h-1.4zM270.0 109.1h1.4v1.4h-1.4zM266.1 112.2h1.4v1.4h-1.4zM266.1 106.7h1.4v1.4h-1.4zM256.6 108.6h1.4v1.4h-1.4zM253.9 110.6h1.4v1.4h-1.4zM253.6 106.5h1.4v1.4h-1.4zM268.2 112.6h1.4v1.4h-1.4zM265.9 108.9h1.4v1.4h-1.4zM264.6 109.2h1.4v1.4h-1.4zM265.6 117.2h1.4v1.4h-1.4zM277.9 107.3h1.4v1.4h-1.4zM274.4 103.6h1.4v1.4h-1.4zM281.6 104.3h1.4v1.4h-1.4zM298.0 114.3h1.4v1.4h-1.4zM291.0 109.1h1.4v1.4h-1.4zM297.2 104.8h1.4v1.4h-1.4zM288.5 114.0h1.4v1.4h-1.4zM294.0 108.6h1.4v1.4h-1.4zM294.6 106.4h1.4v1.4h-1.4zM275.5 105.9h1.4v1.4h-1.4zM293.3 102.0h1.4v1.4h-1.4zM293.6 114.2h1.4v1.4h-1.4zM276.2 102.6h1.4v1.4h-1.4zM285.9 117.6h1.4v1.4h-1.4zM280.7 107.6h1.4v1.4h-1.4zM291.0 109.0h1.4v1.4h-1.4zM295.5 109.7h1.4v1.4h-1.4zM284.9 108.3h1.4v1.4h-1.4zM286.3 100.9h1.4v1.4h-1.4zM283.1 109.5h1.4v1.4h-1.4zM289.9 111.0h1.4v1.4h-1.4zM285.5 104.4h1.4v1.4h-1.4zM284.0 106.2h1.4v1.4h-1.4zM275.5 112.8h1.4v1.4h-1.4zM278.2 109.8h1.4v1.4h-1.4zM283.9 119.3h1.4v1.4h-1.4zM277.3 106.1h1.4v1.4h-1.4zM276.2 97.6h1.4v1.4h-1.4zM278.9 109.4h1.4v1.4h-1.4zM287.0 108.2h1.4v1.4h-1.4zM293.4 99.3h1.4v1.4h-1.4zM280.5 106.3h1.4v1.4h-1.4zM279.4 110.6h1.4v1.4h-1.4zM279.6 104.3h1.4v1.4h-1.4zM278.9 108.1h1.4v1.4h-1.4zM280.2 109.5h1.4v1.4h-1.4zM274.4 105.4h1.4v1.4h-1.4zM279.4 107.1h1.4v1.4h-1.4zM289.9 112.6h1.4v1.4h-1.4zM275.4 105.8h1.4v1.4h-1.4zM272.8 107.3h1.4v1.4h-1.4zM296.1 107.6h1.4v1.4h-1.4zM282.6 112.0h1.4v1.4h-1.4zM295.9 107.2h1.4v1.4h-1.4zM288.6 108.5h1.4v1.4h-1.4zM294.6 107.6h1.4v1.4h-1.4zM286.3 108.7h1.4v1.4h-1.4zM277.4 100.7h1.4v1.4h-1.4zM290.3 102.2h1.4v1.4h-1.4zM272.9 102.3h1.4v1.4h-1.4zM282.0 101.5h1.4v1.4h-1.4zM273.7 106.3h1.4v1.4h-1.4zM299.2 108.2h1.4v1.4h-1.4zM273.7 105.9h1.4v1.4h-1.4zM294.3 96.9h1.4v1.4h-1.4zM294.4 103.3h1.4v1.4h-1.4zM289.2 109.4h1.4v1.4h-1.4zM274.8 112.3h1.4v1.4h-1.4zM285.5 108.1h1.4v1.4h-1.4zM283.5 108.9h1.4v1.4h-1.4zM276.8 100.5h1.4v1.4h-1.4zM286.9 104.3h1.4v1.4h-1.4zM279.9 103.2h1.4v1.4h-1.4zM298.9 104.6h1.4v1.4h-1.4zM274.1 102.8h1.4v1.4h-1.4zM292.5 110.5h1.4v1.4h-1.4zM273.2 103.8h1.4v1.4h-1.4zM293.0 109.1h1.4v1.4h-1.4zM283.1 100.7h1.4v1.4h-1.4zM283.4 111.6h1.4v1.4h-1.4zM276.8 105.2h1.4v1.4h-1.4zM275.7 112.1h1.4v1.4h-1.4zM282.4 110.3h1.4v1.4h-1.4zM293.2 108.0h1.4v1.4h-1.4zM276.5 108.1h1.4v1.4h-1.4zM294.1 102.2h1.4v1.4h-1.4zM297.3 110.6h1.4v1.4h-1.4zM292.2 109.0h1.4v1.4h-1.4zM277.0 110.7h1.4v1.4h-1.4zM277.3 111.1h1.4v1.4h-1.4zM292.7 108.9h1.4v1.4h-1.4zM293.7 108.3h1.4v1.4h-1.4zM294.9 103.3h1.4v1.4h-1.4zM273.9 110.4h1.4v1.4h-1.4zM288.8 104.9h1.4v1.4h-1.4zM289.6 113.2h1.4v1.4h-1.4zM290.9 110.7h1.4v1.4h-1.4zM296.3 101.2h1.4v1.4h-1.4zM289.2 100.0h1.4v1.4h-1.4zM289.0 108.7h1.4v1.4h-1.4zM287.7 111.9h1.4v1.4h-1.4zM273.8 109.5h1.4v1.4h-1.4zM276.0 117.0h1.4v1.4h-1.4zM291.9 119.6h1.4v1.4h-1.4zM302.1 105.5h1.4v1.4h-1.4zM318.0 106.6h1.4v1.4h-1.4zM326.4 105.2h1.4v1.4h-1.4zM304.5 101.8h1.4v1.4h-1.4zM320.0 103.1h1.4v1.4h-1.4zM310.2 101.2h1.4v1.4h-1.4zM313.8 109.4h1.4v1.4h-1.4zM320.9 101.8h1.4v1.4h-1.4zM301.6 108.1h1.4v1.4h-1.4zM319.7 103.1h1.4v1.4h-1.4zM324.1 106.7h1.4v1.4h-1.4zM324.6 103.7h1.4v1.4h-1.4zM315.3 107.2h1.4v1.4h-1.4zM304.2 109.9h1.4v1.4h-1.4zM303.7 110.0h1.4v1.4h-1.4zM314.3 105.2h1.4v1.4h-1.4zM320.2 106.4h1.4v1.4h-1.4zM303.4 105.7h1.4v1.4h-1.4zM316.4 98.6h1.4v1.4h-1.4zM302.5 102.0h1.4v1.4h-1.4zM329.8 106.4h1.4v1.4h-1.4zM305.0 116.1h1.4v1.4h-1.4zM323.2 94.5h1.4v1.4h-1.4zM325.7 111.0h1.4v1.4h-1.4zM315.9 118.7h1.4v1.4h-1.4zM330.0 108.9h1.4v1.4h-1.4zM324.9 105.1h1.4v1.4h-1.4zM329.2 110.4h1.4v1.4h-1.4zM323.9 108.2h1.4v1.4h-1.4zM305.7 109.4h1.4v1.4h-1.4zM325.7 104.3h1.4v1.4h-1.4zM305.3 96.2h1.4v1.4h-1.4zM307.2 106.4h1.4v1.4h-1.4zM308.9 102.5h1.4v1.4h-1.4zM302.0 106.3h1.4v1.4h-1.4zM306.4 112.2h1.4v1.4h-1.4zM321.6 115.7h1.4v1.4h-1.4zM328.1 110.4h1.4v1.4h-1.4zM304.4 113.5h1.4v1.4h-1.4zM317.0 103.7h1.4v1.4h-1.4zM327.4 103.2h1.4v1.4h-1.4zM317.8 98.2h1.4v1.4h-1.4zM304.1 101.9h1.4v1.4h-1.4zM331.1 103.3h1.4v1.4h-1.4zM325.1 103.1h1.4v1.4h-1.4zM308.9 112.5h1.4v1.4h-1.4zM311.9 106.1h1.4v1.4h-1.4zM324.1 103.8h1.4v1.4h-1.4zM323.5 107.5h1.4v1.4h-1.4zM302.4 108.0h1.4v1.4h-1.4zM320.3 103.3h1.4v1.4h-1.4zM330.8 100.7h1.4v1.4h-1.4zM310.4 103.0h1.4v1.4h-1.4zM301.0 109.1h1.4v1.4h-1.4zM319.6 107.1h1.4v1.4h-1.4zM314.0 96.8h1.4v1.4h-1.4zM304.9 105.7h1.4v1.4h-1.4zM307.8 105.9h1.4v1.4h-1.4zM301.0 105.7h1.4v1.4h-1.4zM311.7 109.9h1.4v1.4h-1.4zM307.7 109.2h1.4v1.4h-1.4zM318.6 103.9h1.4v1.4h-1.4zM319.9 104.8h1.4v1.4h-1.4zM315.3 113.7h1.4v1.4h-1.4zM308.3 114.6h1.4v1.4h-1.4zM305.4 111.9h1.4v1.4h-1.4zM327.4 110.2h1.4v1.4h-1.4zM324.7 103.6h1.4v1.4h-1.4zM301.2 108.6h1.4v1.4h-1.4zM320.5 102.6h1.4v1.4h-1.4zM320.5 104.9h1.4v1.4h-1.4zM314.4 113.4h1.4v1.4h-1.4zM308.5 103.6h1.4v1.4h-1.4zM328.4 111.9h1.4v1.4h-1.4zM313.2 108.0h1.4v1.4h-1.4zM308.1 114.0h1.4v1.4h-1.4zM301.3 109.4h1.4v1.4h-1.4zM317.6 108.9h1.4v1.4h-1.4zM307.0 105.6h1.4v1.4h-1.4zM319.4 99.9h1.4v1.4h-1.4zM325.6 106.2h1.4v1.4h-1.4zM306.2 105.1h1.4v1.4h-1.4zM302.4 110.1h1.4v1.4h-1.4zM327.9 108.0h1.4v1.4h-1.4zM301.1 99.4h1.4v1.4h-1.4zM326.6 106.3h1.4v1.4h-1.4zM323.4 101.4h1.4v1.4h-1.4zM314.7 106.8h1.4v1.4h-1.4zM308.0 108.6h1.4v1.4h-1.4zM302.1 102.6h1.4v1.4h-1.4zM322.0 113.1h1.4v1.4h-1.4zM326.6 105.6h1.4v1.4h-1.4zM317.7 103.0h1.4v1.4h-1.4zM314.2 107.8h1.4v1.4h-1.4zM309.0 101.1h1.4v1.4h-1.4zM320.4 109.6h1.4v1.4h-1.4zM327.7 105.8h1.4v1.4h-1.4zM301.4 106.3h1.4v1.4h-1.4zM323.5 109.9h1.4v1.4h-1.4zM329.6 106.4h1.4v1.4h-1.4zM327.7 102.4h1.4v1.4h-1.4zM310.9 107.2h1.4v1.4h-1.4zM320.1 116.5h1.4v1.4h-1.4zM322.0 100.0h1.4v1.4h-1.4zM315.2 95.5h1.4v1.4h-1.4zM322.1 118.9h1.4v1.4h-1.4zM314.2 118.4h1.4v1.4h-1.4zM318.2 116.7h1.4v1.4h-1.4zM338.3 105.7h1.4v1.4h-1.4zM355.9 105.7h1.4v1.4h-1.4zM336.6 109.2h1.4v1.4h-1.4zM356.3 107.4h1.4v1.4h-1.4zM341.7 107.7h1.4v1.4h-1.4zM334.0 107.9h1.4v1.4h-1.4zM350.4 102.3h1.4v1.4h-1.4zM351.5 101.7h1.4v1.4h-1.4zM334.7 103.3h1.4v1.4h-1.4zM353.5 104.6h1.4v1.4h-1.4zM353.6 108.3h1.4v1.4h-1.4zM354.8 105.9h1.4v1.4h-1.4zM356.0 109.1h1.4v1.4h-1.4zM338.2 106.2h1.4v1.4h-1.4zM335.8 115.7h1.4v1.4h-1.4zM353.4 108.9h1.4v1.4h-1.4zM348.9 110.0h1.4v1.4h-1.4zM340.2 101.2h1.4v1.4h-1.4zM335.5 113.3h1.4v1.4h-1.4zM338.1 111.5h1.4v1.4h-1.4zM341.0 106.2h1.4v1.4h-1.4zM339.4 107.4h1.4v1.4h-1.4zM340.1 106.1h1.4v1.4h-1.4zM341.1 102.7h1.4v1.4h-1.4zM357.2 98.0h1.4v1.4h-1.4zM348.5 106.8h1.4v1.4h-1.4zM333.8 102.8h1.4v1.4h-1.4zM352.4 109.6h1.4v1.4h-1.4zM341.7 105.4h1.4v1.4h-1.4zM338.4 101.5h1.4v1.4h-1.4zM354.6 114.2h1.4v1.4h-1.4zM337.3 111.6h1.4v1.4h-1.4zM333.0 109.3h1.4v1.4h-1.4zM357.5 114.4h1.4v1.4h-1.4zM333.1 101.7h1.4v1.4h-1.4zM353.0 107.3h1.4v1.4h-1.4zM337.6 102.8h1.4v1.4h-1.4zM353.9 107.1h1.4v1.4h-1.4zM339.5 110.5h1.4v1.4h-1.4zM338.4 105.7h1.4v1.4h-1.4zM350.6 104.8h1.4v1.4h-1.4zM349.0 107.0h1.4v1.4h-1.4zM335.0 108.7h1.4v1.4h-1.4zM352.8 100.1h1.4v1.4h-1.4zM348.8 104.1h1.4v1.4h-1.4zM342.9 110.7h1.4v1.4h-1.4zM355.3 115.3h1.4v1.4h-1.4zM333.6 112.0h1.4v1.4h-1.4zM338.2 106.2h1.4v1.4h-1.4zM345.6 116.9h1.4v1.4h-1.4zM342.5 109.5h1.4v1.4h-1.4zM344.6 104.8h1.4v1.4h-1.4zM346.3 107.2h1.4v1.4h-1.4zM349.2 99.3h1.4v1.4h-1.4zM341.7 105.8h1.4v1.4h-1.4zM354.2 109.4h1.4v1.4h-1.4zM349.6 106.9h1.4v1.4h-1.4zM344.0 104.2h1.4v1.4h-1.4zM352.4 104.9h1.4v1.4h-1.4zM344.6 105.9h1.4v1.4h-1.4zM355.2 107.2h1.4v1.4h-1.4zM340.6 110.0h1.4v1.4h-1.4zM350.6 108.5h1.4v1.4h-1.4zM336.9 104.8h1.4v1.4h-1.4zM339.2 104.4h1.4v1.4h-1.4zM337.0 112.0h1.4v1.4h-1.4zM341.2 111.7h1.4v1.4h-1.4zM351.3 118.6h1.4v1.4h-1.4zM335.6 109.1h1.4v1.4h-1.4zM342.6 106.5h1.4v1.4h-1.4zM357.7 109.1h1.4v1.4h-1.4zM343.9 99.8h1.4v1.4h-1.4zM337.9 105.6h1.4v1.4h-1.4zM338.2 105.3h1.4v1.4h-1.4zM342.7 111.5h1.4v1.4h-1.4zM352.9 108.0h1.4v1.4h-1.4zM350.4 100.5h1.4v1.4h-1.4zM344.6 107.0h1.4v1.4h-1.4zM336.6 103.3h1.4v1.4h-1.4zM351.6 104.2h1.4v1.4h-1.4zM355.8 101.6h1.4v1.4h-1.4zM351.8 109.6h1.4v1.4h-1.4zM343.6 108.0h1.4v1.4h-1.4zM355.1 114.3h1.4v1.4h-1.4zM352.4 104.2h1.4v1.4h-1.4zM350.1 98.4h1.4v1.4h-1.4zM349.1 103.2h1.4v1.4h-1.4zM348.8 108.1h1.4v1.4h-1.4zM355.5 117.0h1.4v1.4h-1.4zM371.4 104.4h1.4v1.4h-1.4zM384.3 102.4h1.4v1.4h-1.4zM373.8 114.0h1.4v1.4h-1.4zM374.8 106.1h1.4v1.4h-1.4zM378.9 111.8h1.4v1.4h-1.4zM369.3 98.0h1.4v1.4h-1.4zM360.1 109.9h1.4v1.4h-1.4zM362.9 96.2h1.4v1.4h-1.4zM367.1 106.5h1.4v1.4h-1.4zM387.3 112.2h1.4v1.4h-1.4zM365.6 99.8h1.4v1.4h-1.4zM373.0 112.3h1.4v1.4h-1.4zM365.7 104.2h1.4v1.4h-1.4zM382.7 105.1h1.4v1.4h-1.4zM370.5 100.8h1.4v1.4h-1.4zM373.0 111.3h1.4v1.4h-1.4zM388.4 107.2h1.4v1.4h-1.4zM386.8 110.1h1.4v1.4h-1.4zM380.9 100.1h1.4v1.4h-1.4zM367.1 100.7h1.4v1.4h-1.4zM370.8 106.7h1.4v1.4h-1.4zM386.3 105.7h1.4v1.4h-1.4zM378.0 102.2h1.4v1.4h-1.4zM363.0 99.6h1.4v1.4h-1.4zM368.6 95.8h1.4v1.4h-1.4zM387.9 111.7h1.4v1.4h-1.4zM388.5 110.0h1.4v1.4h-1.4zM364.6 103.8h1.4v1.4h-1.4zM386.7 112.5h1.4v1.4h-1.4zM365.4 108.5h1.4v1.4h-1.4zM378.4 103.5h1.4v1.4h-1.4zM364.0 96.7h1.4v1.4h-1.4zM379.0 109.0h1.4v1.4h-1.4zM371.7 97.8h1.4v1.4h-1.4zM388.6 105.4h1.4v1.4h-1.4zM382.3 98.4h1.4v1.4h-1.4zM373.4 105.7h1.4v1.4h-1.4zM380.2 101.7h1.4v1.4h-1.4zM379.7 111.9h1.4v1.4h-1.4zM373.7 104.3h1.4v1.4h-1.4zM383.1 106.3h1.4v1.4h-1.4zM378.7 100.9h1.4v1.4h-1.4zM369.1 98.6h1.4v1.4h-1.4zM362.3 105.6h1.4v1.4h-1.4zM385.7 107.2h1.4v1.4h-1.4zM370.9 108.2h1.4v1.4h-1.4zM362.3 101.3h1.4v1.4h-1.4zM387.0 103.4h1.4v1.4h-1.4zM375.1 101.6h1.4v1.4h-1.4zM378.8 110.0h1.4v1.4h-1.4zM365.9 108.4h1.4v1.4h-1.4zM377.4 106.7h1.4v1.4h-1.4zM376.5 106.8h1.4v1.4h-1.4zM372.9 102.7h1.4v1.4h-1.4zM382.5 106.2h1.4v1.4h-1.4zM375.2 109.5h1.4v1.4h-1.4zM377.4 100.2h1.4v1.4h-1.4zM362.4 93.3h1.4v1.4h-1.4zM385.9 98.8h1.4v1.4h-1.4zM368.4 103.0h1.4v1.4h-1.4zM374.1 105.4h1.4v1.4h-1.4zM384.1 106.8h1.4v1.4h-1.4zM379.2 106.7h1.4v1.4h-1.4zM371.9 106.5h1.4v1.4h-1.4zM383.7 99.2h1.4v1.4h-1.4zM373.8 106.0h1.4v1.4h-1.4zM386.0 103.9h1.4v1.4h-1.4zM364.6 101.7h1.4v1.4h-1.4zM377.1 104.7h1.4v1.4h-1.4zM369.1 102.3h1.4v1.4h-1.4zM379.9 101.1h1.4v1.4h-1.4zM373.3 105.1h1.4v1.4h-1.4zM372.1 111.9h1.4v1.4h-1.4zM365.0 105.0h1.4v1.4h-1.4zM370.2 104.4h1.4v1.4h-1.4zM361.1 104.3h1.4v1.4h-1.4zM381.1 113.4h1.4v1.4h-1.4zM362.5 104.9h1.4v1.4h-1.4zM373.8 105.1h1.4v1.4h-1.4zM366.0 102.4h1.4v1.4h-1.4zM371.8 106.4h1.4v1.4h-1.4zM378.8 106.5h1.4v1.4h-1.4zM369.7 106.0h1.4v1.4h-1.4zM386.2 99.2h1.4v1.4h-1.4zM368.0 103.1h1.4v1.4h-1.4zM361.3 107.9h1.4v1.4h-1.4zM368.2 101.7h1.4v1.4h-1.4zM369.4 109.2h1.4v1.4h-1.4zM388.2 108.0h1.4v1.4h-1.4zM365.7 102.0h1.4v1.4h-1.4zM374.0 107.2h1.4v1.4h-1.4zM380.4 107.0h1.4v1.4h-1.4zM363.5 106.9h1.4v1.4h-1.4zM388.6 104.7h1.4v1.4h-1.4zM371.3 100.6h1.4v1.4h-1.4zM376.4 103.4h1.4v1.4h-1.4zM371.3 106.1h1.4v1.4h-1.4zM383.6 105.9h1.4v1.4h-1.4zM373.5 105.2h1.4v1.4h-1.4zM374.3 103.4h1.4v1.4h-1.4zM377.5 116.5h1.4v1.4h-1.4zM377.9 116.8h1.4v1.4h-1.4zM377.0 116.7h1.4v1.4h-1.4zM396.3 102.5h1.4v1.4h-1.4zM411.6 100.6h1.4v1.4h-1.4zM393.2 105.5h1.4v1.4h-1.4zM411.9 106.1h1.4v1.4h-1.4zM415.8 102.5h1.4v1.4h-1.4zM413.3 101.3h1.4v1.4h-1.4zM412.3 101.7h1.4v1.4h-1.4zM398.8 103.6h1.4v1.4h-1.4zM402.1 103.0h1.4v1.4h-1.4zM408.2 109.4h1.4v1.4h-1.4zM416.4 110.6h1.4v1.4h-1.4zM391.5 107.0h1.4v1.4h-1.4zM393.7 107.2h1.4v1.4h-1.4zM415.9 99.4h1.4v1.4h-1.4zM402.8 109.5h1.4v1.4h-1.4zM406.9 105.4h1.4v1.4h-1.4zM416.5 110.2h1.4v1.4h-1.4zM401.9 104.4h1.4v1.4h-1.4zM393.2 103.0h1.4v1.4h-1.4zM394.6 102.5h1.4v1.4h-1.4zM390.8 112.0h1.4v1.4h-1.4zM393.8 105.2h1.4v1.4h-1.4zM417.3 112.9h1.4v1.4h-1.4zM394.0 109.9h1.4v1.4h-1.4zM390.9 104.3h1.4v1.4h-1.4zM410.8 101.6h1.4v1.4h-1.4zM395.6 112.5h1.4v1.4h-1.4zM410.2 107.5h1.4v1.4h-1.4zM414.2 104.8h1.4v1.4h-1.4zM407.9 103.1h1.4v1.4h-1.4zM410.1 94.6h1.4v1.4h-1.4zM397.5 107.6h1.4v1.4h-1.4zM417.2 104.9h1.4v1.4h-1.4zM390.8 104.3h1.4v1.4h-1.4zM408.5 105.8h1.4v1.4h-1.4zM399.0 103.3h1.4v1.4h-1.4zM410.7 109.6h1.4v1.4h-1.4zM403.9 112.9h1.4v1.4h-1.4zM392.1 100.9h1.4v1.4h-1.4zM402.6 109.4h1.4v1.4h-1.4zM409.2 110.0h1.4v1.4h-1.4zM400.5 111.5h1.4v1.4h-1.4zM408.3 101.7h1.4v1.4h-1.4zM401.1 101.5h1.4v1.4h-1.4zM412.3 112.6h1.4v1.4h-1.4zM406.2 102.3h1.4v1.4h-1.4zM398.5 116.5h1.4v1.4h-1.4zM410.0 109.6h1.4v1.4h-1.4zM413.4 101.9h1.4v1.4h-1.4zM417.6 110.5h1.4v1.4h-1.4zM413.5 101.8h1.4v1.4h-1.4zM402.3 102.7h1.4v1.4h-1.4zM415.1 100.0h1.4v1.4h-1.4zM407.1 109.9h1.4v1.4h-1.4zM415.3 106.3h1.4v1.4h-1.4zM390.4 101.5h1.4v1.4h-1.4zM397.7 99.6h1.4v1.4h-1.4zM413.1 107.9h1.4v1.4h-1.4zM415.1 113.4h1.4v1.4h-1.4zM413.0 107.3h1.4v1.4h-1.4zM414.5 101.7h1.4v1.4h-1.4zM414.1 103.4h1.4v1.4h-1.4zM412.8 100.9h1.4v1.4h-1.4zM400.0 95.7h1.4v1.4h-1.4zM392.8 97.2h1.4v1.4h-1.4zM396.0 102.3h1.4v1.4h-1.4zM411.3 108.1h1.4v1.4h-1.4zM407.3 103.6h1.4v1.4h-1.4zM409.2 101.9h1.4v1.4h-1.4zM397.5 105.7h1.4v1.4h-1.4zM411.3 106.3h1.4v1.4h-1.4zM392.8 100.1h1.4v1.4h-1.4zM412.8 105.5h1.4v1.4h-1.4zM406.5 101.7h1.4v1.4h-1.4zM415.3 109.2h1.4v1.4h-1.4zM403.6 101.3h1.4v1.4h-1.4zM406.8 106.1h1.4v1.4h-1.4zM395.4 107.8h1.4v1.4h-1.4zM409.9 101.1h1.4v1.4h-1.4zM401.6 109.5h1.4v1.4h-1.4zM404.8 105.8h1.4v1.4h-1.4zM418.1 106.1h1.4v1.4h-1.4zM400.8 110.1h1.4v1.4h-1.4zM412.3 109.0h1.4v1.4h-1.4zM394.7 101.5h1.4v1.4h-1.4zM404.8 102.6h1.4v1.4h-1.4zM391.0 118.7h1.4v1.4h-1.4zM414.5 107.9h1.4v1.4h-1.4zM403.9 101.7h1.4v1.4h-1.4zM412.1 103.5h1.4v1.4h-1.4zM402.2 112.4h1.4v1.4h-1.4zM413.2 102.4h1.4v1.4h-1.4zM417.2 105.0h1.4v1.4h-1.4zM396.0 106.3h1.4v1.4h-1.4zM395.4 106.3h1.4v1.4h-1.4zM405.9 105.7h1.4v1.4h-1.4zM403.1 117.8h1.4v1.4h-1.4zM415.7 114.3h1.4v1.4h-1.4zM407.0 115.6h1.4v1.4h-1.4zM423.4 106.9h1.4v1.4h-1.4zM436.4 102.6h1.4v1.4h-1.4zM438.7 110.1h1.4v1.4h-1.4zM431.4 101.6h1.4v1.4h-1.4zM433.0 109.9h1.4v1.4h-1.4zM449.0 113.6h1.4v1.4h-1.4zM426.4 106.9h1.4v1.4h-1.4zM430.2 104.4h1.4v1.4h-1.4zM446.4 110.7h1.4v1.4h-1.4zM421.3 98.6h1.4v1.4h-1.4zM442.9 101.8h1.4v1.4h-1.4zM448.8 97.1h1.4v1.4h-1.4zM421.5 108.2h1.4v1.4h-1.4zM447.4 109.6h1.4v1.4h-1.4zM439.7 101.6h1.4v1.4h-1.4zM442.1 109.4h1.4v1.4h-1.4zM423.0 101.9h1.4v1.4h-1.4zM423.5 106.7h1.4v1.4h-1.4zM434.0 105.2h1.4v1.4h-1.4zM424.1 106.5h1.4v1.4h-1.4zM439.8 110.8h1.4v1.4h-1.4zM425.6 104.1h1.4v1.4h-1.4zM421.0 106.4h1.4v1.4h-1.4zM447.3 102.1h1.4v1.4h-1.4zM445.3 105.4h1.4v1.4h-1.4zM433.0 101.9h1.4v1.4h-1.4zM422.7 111.5h1.4v1.4h-1.4zM438.3 99.7h1.4v1.4h-1.4zM433.2 98.9h1.4v1.4h-1.4zM433.9 110.7h1.4v1.4h-1.4zM438.3 105.5h1.4v1.4h-1.4zM421.6 106.0h1.4v1.4h-1.4zM440.8 101.1h1.4v1.4h-1.4zM445.4 102.7h1.4v1.4h-1.4zM427.7 101.2h1.4v1.4h-1.4zM427.8 104.9h1.4v1.4h-1.4zM444.5 102.1h1.4v1.4h-1.4zM434.3 105.9h1.4v1.4h-1.4zM429.2 105.4h1.4v1.4h-1.4zM448.6 102.2h1.4v1.4h-1.4zM421.6 108.9h1.4v1.4h-1.4zM426.1 99.3h1.4v1.4h-1.4zM433.9 102.7h1.4v1.4h-1.4zM425.8 107.0h1.4v1.4h-1.4zM430.6 119.7h1.4v1.4h-1.4zM447.0 102.6h1.4v1.4h-1.4zM422.8 101.1h1.4v1.4h-1.4zM421.6 113.0h1.4v1.4h-1.4zM441.2 100.1h1.4v1.4h-1.4zM420.4 115.8h1.4v1.4h-1.4zM443.5 102.1h1.4v1.4h-1.4zM420.0 105.6h1.4v1.4h-1.4zM444.3 100.6h1.4v1.4h-1.4zM432.7 103.0h1.4v1.4h-1.4zM446.6 104.7h1.4v1.4h-1.4zM423.9 109.4h1.4v1.4h-1.4zM425.2 104.4h1.4v1.4h-1.4zM425.7 96.3h1.4v1.4h-1.4zM422.2 108.9h1.4v1.4h-1.4zM434.4 106.8h1.4v1.4h-1.4zM427.9 105.2h1.4v1.4h-1.4zM440.6 109.6h1.4v1.4h-1.4zM443.7 100.8h1.4v1.4h-1.4zM421.8 102.0h1.4v1.4h-1.4zM441.4 97.3h1.4v1.4h-1.4zM421.5 107.5h1.4v1.4h-1.4zM443.7 99.0h1.4v1.4h-1.4zM445.2 111.1h1.4v1.4h-1.4zM434.3 113.6h1.4v1.4h-1.4zM433.9 104.5h1.4v1.4h-1.4zM445.5 103.2h1.4v1.4h-1.4zM444.3 106.4h1.4v1.4h-1.4zM430.7 105.8h1.4v1.4h-1.4zM437.3 107.3h1.4v1.4h-1.4zM420.0 98.5h1.4v1.4h-1.4zM435.0 102.9h1.4v1.4h-1.4zM423.4 101.6h1.4v1.4h-1.4zM445.3 95.2h1.4v1.4h-1.4zM429.3 102.4h1.4v1.4h-1.4zM441.9 99.1h1.4v1.4h-1.4zM421.7 111.5h1.4v1.4h-1.4zM434.4 95.3h1.4v1.4h-1.4zM434.9 97.9h1.4v1.4h-1.4zM420.5 102.4h1.4v1.4h-1.4zM448.2 104.0h1.4v1.4h-1.4zM422.9 106.4h1.4v1.4h-1.4zM427.2 104.0h1.4v1.4h-1.4zM422.7 102.5h1.4v1.4h-1.4zM440.4 103.8h1.4v1.4h-1.4zM437.5 104.3h1.4v1.4h-1.4zM436.8 96.4h1.4v1.4h-1.4zM422.9 102.5h1.4v1.4h-1.4zM445.4 103.2h1.4v1.4h-1.4zM423.5 102.1h1.4v1.4h-1.4zM434.4 99.8h1.4v1.4h-1.4zM423.5 103.5h1.4v1.4h-1.4zM431.8 107.5h1.4v1.4h-1.4zM445.1 108.2h1.4v1.4h-1.4zM424.2 96.7h1.4v1.4h-1.4zM424.7 100.1h1.4v1.4h-1.4zM444.1 107.7h1.4v1.4h-1.4zM437.4 114.9h1.4v1.4h-1.4zM421.0 116.4h1.4v1.4h-1.4zM452.3 102.3h1.4v1.4h-1.4zM460.9 96.9h1.4v1.4h-1.4zM470.6 109.1h1.4v1.4h-1.4zM474.2 91.7h1.4v1.4h-1.4zM459.7 98.7h1.4v1.4h-1.4zM462.0 100.2h1.4v1.4h-1.4zM454.9 102.5h1.4v1.4h-1.4zM469.7 98.4h1.4v1.4h-1.4zM469.2 111.4h1.4v1.4h-1.4zM451.2 106.3h1.4v1.4h-1.4zM459.9 105.9h1.4v1.4h-1.4zM456.4 102.4h1.4v1.4h-1.4zM462.5 101.1h1.4v1.4h-1.4zM461.9 109.1h1.4v1.4h-1.4zM452.2 103.9h1.4v1.4h-1.4zM478.0 105.3h1.4v1.4h-1.4zM474.8 103.8h1.4v1.4h-1.4zM468.0 109.6h1.4v1.4h-1.4zM468.2 100.8h1.4v1.4h-1.4zM473.2 106.1h1.4v1.4h-1.4zM454.3 104.5h1.4v1.4h-1.4zM451.3 104.1h1.4v1.4h-1.4zM454.0 105.3h1.4v1.4h-1.4zM460.5 104.8h1.4v1.4h-1.4zM477.4 105.4h1.4v1.4h-1.4zM476.3 105.6h1.4v1.4h-1.4zM467.2 102.9h1.4v1.4h-1.4zM476.6 98.9h1.4v1.4h-1.4zM475.3 106.0h1.4v1.4h-1.4zM476.2 100.7h1.4v1.4h-1.4zM471.2 102.3h1.4v1.4h-1.4zM471.3 102.8h1.4v1.4h-1.4zM470.1 108.9h1.4v1.4h-1.4zM457.0 99.6h1.4v1.4h-1.4zM461.0 107.8h1.4v1.4h-1.4zM475.5 102.3h1.4v1.4h-1.4zM473.5 108.9h1.4v1.4h-1.4zM451.8 102.5h1.4v1.4h-1.4zM466.0 106.6h1.4v1.4h-1.4zM477.7 95.7h1.4v1.4h-1.4zM455.4 110.3h1.4v1.4h-1.4zM477.2 102.2h1.4v1.4h-1.4zM458.4 107.6h1.4v1.4h-1.4zM475.1 104.3h1.4v1.4h-1.4zM451.5 105.5h1.4v1.4h-1.4zM466.1 100.7h1.4v1.4h-1.4zM469.1 101.4h1.4v1.4h-1.4zM465.2 106.2h1.4v1.4h-1.4zM472.0 100.3h1.4v1.4h-1.4zM465.3 110.9h1.4v1.4h-1.4zM476.7 103.5h1.4v1.4h-1.4zM462.4 102.8h1.4v1.4h-1.4zM456.5 101.8h1.4v1.4h-1.4zM467.8 102.5h1.4v1.4h-1.4zM453.5 112.7h1.4v1.4h-1.4zM474.5 117.4h1.4v1.4h-1.4zM458.3 96.9h1.4v1.4h-1.4zM468.3 99.2h1.4v1.4h-1.4zM462.3 98.7h1.4v1.4h-1.4zM453.8 99.1h1.4v1.4h-1.4zM454.1 107.1h1.4v1.4h-1.4zM461.9 106.6h1.4v1.4h-1.4zM474.4 103.9h1.4v1.4h-1.4zM458.6 102.4h1.4v1.4h-1.4zM474.4 102.5h1.4v1.4h-1.4zM470.0 103.0h1.4v1.4h-1.4zM460.6 108.2h1.4v1.4h-1.4zM465.4 98.5h1.4v1.4h-1.4zM451.1 100.2h1.4v1.4h-1.4zM471.5 108.5h1.4v1.4h-1.4zM459.2 103.7h1.4v1.4h-1.4zM465.7 105.6h1.4v1.4h-1.4zM461.3 99.3h1.4v1.4h-1.4zM457.3 105.8h1.4v1.4h-1.4zM477.6 100.3h1.4v1.4h-1.4zM467.7 104.2h1.4v1.4h-1.4zM477.7 108.1h1.4v1.4h-1.4zM475.5 105.0h1.4v1.4h-1.4zM458.0 103.7h1.4v1.4h-1.4zM475.6 102.2h1.4v1.4h-1.4zM459.5 109.4h1.4v1.4h-1.4zM468.0 96.1h1.4v1.4h-1.4zM471.0 107.3h1.4v1.4h-1.4zM462.8 102.7h1.4v1.4h-1.4zM469.6 104.3h1.4v1.4h-1.4zM463.4 105.7h1.4v1.4h-1.4zM457.2 104.1h1.4v1.4h-1.4zM462.2 97.3h1.4v1.4h-1.4zM476.5 104.0h1.4v1.4h-1.4zM455.2 105.8h1.4v1.4h-1.4zM462.0 108.5h1.4v1.4h-1.4zM472.1 108.9h1.4v1.4h-1.4zM470.0 100.4h1.4v1.4h-1.4zM471.5 107.7h1.4v1.4h-1.4zM461.0 106.4h1.4v1.4h-1.4zM453.0 102.9h1.4v1.4h-1.4zM475.6 115.8h1.4v1.4h-1.4zM473.5 117.0h1.4v1.4h-1.4zM475.4 114.7h1.4v1.4h-1.4zM484.9 104.7h1.4v1.4h-1.4zM489.0 96.6h1.4v1.4h-1.4zM485.9 101.6h1.4v1.4h-1.4zM485.7 97.7h1.4v1.4h-1.4zM490.9 97.4h1.4v1.4h-1.4zM510.2 101.1h1.4v1.4h-1.4zM492.6 101.0h1.4v1.4h-1.4zM504.0 99.5h1.4v1.4h-1.4zM480.3 108.6h1.4v1.4h-1.4zM489.4 105.3h1.4v1.4h-1.4zM500.4 96.9h1.4v1.4h-1.4zM486.1 96.2h1.4v1.4h-1.4zM488.2 102.1h1.4v1.4h-1.4zM499.7 86.6h1.4v1.4h-1.4zM497.5 98.9h1.4v1.4h-1.4zM492.6 103.9h1.4v1.4h-1.4zM503.1 103.9h1.4v1.4h-1.4zM483.4 104.3h1.4v1.4h-1.4zM496.0 103.7h1.4v1.4h-1.4zM505.1 95.7h1.4v1.4h-1.4zM482.1 96.6h1.4v1.4h-1.4zM480.6 102.5h1.4v1.4h-1.4zM501.8 98.0h1.4v1.4h-1.4zM490.9 103.8h1.4v1.4h-1.4zM483.2 105.2h1.4v1.4h-1.4zM507.5 98.3h1.4v1.4h-1.4zM493.8 99.9h1.4v1.4h-1.4zM491.8 111.1h1.4v1.4h-1.4zM497.8 105.3h1.4v1.4h-1.4zM509.2 96.1h1.4v1.4h-1.4zM487.7 104.4h1.4v1.4h-1.4zM481.5 110.2h1.4v1.4h-1.4zM489.7 98.2h1.4v1.4h-1.4zM507.3 103.6h1.4v1.4h-1.4zM498.4 98.4h1.4v1.4h-1.4zM509.2 90.8h1.4v1.4h-1.4zM487.5 102.3h1.4v1.4h-1.4zM492.0 101.4h1.4v1.4h-1.4zM489.5 98.8h1.4v1.4h-1.4zM506.6 93.9h1.4v1.4h-1.4zM487.6 102.8h1.4v1.4h-1.4zM485.4 100.1h1.4v1.4h-1.4zM509.5 104.3h1.4v1.4h-1.4zM489.0 99.9h1.4v1.4h-1.4zM496.3 101.1h1.4v1.4h-1.4zM491.8 100.6h1.4v1.4h-1.4zM483.9 103.0h1.4v1.4h-1.4zM505.1 100.0h1.4v1.4h-1.4zM486.0 104.8h1.4v1.4h-1.4zM488.8 102.1h1.4v1.4h-1.4zM500.3 103.2h1.4v1.4h-1.4zM490.5 106.0h1.4v1.4h-1.4zM483.0 108.0h1.4v1.4h-1.4zM488.3 103.2h1.4v1.4h-1.4zM493.6 99.9h1.4v1.4h-1.4zM505.5 102.9h1.4v1.4h-1.4zM490.9 99.5h1.4v1.4h-1.4zM502.0 93.7h1.4v1.4h-1.4zM486.5 110.1h1.4v1.4h-1.4zM508.9 98.7h1.4v1.4h-1.4zM493.9 101.9h1.4v1.4h-1.4zM484.2 101.0h1.4v1.4h-1.4zM507.4 98.6h1.4v1.4h-1.4zM497.9 99.7h1.4v1.4h-1.4zM498.6 104.6h1.4v1.4h-1.4zM486.6 103.6h1.4v1.4h-1.4zM495.7 100.3h1.4v1.4h-1.4zM496.6 101.0h1.4v1.4h-1.4zM491.8 109.8h1.4v1.4h-1.4zM500.1 98.4h1.4v1.4h-1.4zM492.0 100.4h1.4v1.4h-1.4zM482.8 106.0h1.4v1.4h-1.4zM489.9 110.0h1.4v1.4h-1.4zM500.2 106.6h1.4v1.4h-1.4zM491.1 105.7h1.4v1.4h-1.4zM495.3 101.5h1.4v1.4h-1.4zM489.6 103.6h1.4v1.4h-1.4zM487.0 107.1h1.4v1.4h-1.4zM488.7 107.2h1.4v1.4h-1.4zM492.4 108.7h1.4v1.4h-1.4zM506.9 97.7h1.4v1.4h-1.4zM506.2 104.5h1.4v1.4h-1.4zM481.1 104.7h1.4v1.4h-1.4zM500.7 99.8h1.4v1.4h-1.4zM492.7 98.3h1.4v1.4h-1.4zM500.1 100.9h1.4v1.4h-1.4zM505.8 98.7h1.4v1.4h-1.4zM490.8 100.0h1.4v1.4h-1.4zM483.7 99.9h1.4v1.4h-1.4zM507.8 101.3h1.4v1.4h-1.4zM481.4 94.8h1.4v1.4h-1.4zM481.4 103.6h1.4v1.4h-1.4zM489.4 104.6h1.4v1.4h-1.4zM491.7 105.8h1.4v1.4h-1.4zM499.5 103.0h1.4v1.4h-1.4zM485.6 105.2h1.4v1.4h-1.4zM501.8 96.9h1.4v1.4h-1.4zM487.9 95.6h1.4v1.4h-1.4zM490.7 104.8h1.4v1.4h-1.4zM480.2 106.0h1.4v1.4h-1.4zM488.8 95.1h1.4v1.4h-1.4zM481.5 105.8h1.4v1.4h-1.4zM481.6 97.0h1.4v1.4h-1.4zM487.6 108.2h1.4v1.4h-1.4zM503.7 112.4h1.4v1.4h-1.4zM537.7 108.2h1.4v1.4h-1.4zM523.8 102.4h1.4v1.4h-1.4zM529.3 86.7h1.4v1.4h-1.4zM518.3 98.8h1.4v1.4h-1.4zM538.7 102.3h1.4v1.4h-1.4zM524.5 100.1h1.4v1.4h-1.4zM531.4 107.6h1.4v1.4h-1.4zM535.6 99.1h1.4v1.4h-1.4zM531.0 99.1h1.4v1.4h-1.4zM517.9 98.9h1.4v1.4h-1.4zM533.9 95.1h1.4v1.4h-1.4zM525.8 107.2h1.4v1.4h-1.4zM535.2 113.5h1.4v1.4h-1.4zM527.8 104.3h1.4v1.4h-1.4zM534.0 105.4h1.4v1.4h-1.4zM518.7 102.2h1.4v1.4h-1.4zM516.8 114.8h1.4v1.4h-1.4zM521.8 108.5h1.4v1.4h-1.4zM515.9 106.6h1.4v1.4h-1.4zM531.3 97.7h1.4v1.4h-1.4zM531.9 103.4h1.4v1.4h-1.4zM512.3 102.1h1.4v1.4h-1.4zM530.0 100.7h1.4v1.4h-1.4zM531.6 107.8h1.4v1.4h-1.4zM528.6 108.4h1.4v1.4h-1.4zM518.8 101.4h1.4v1.4h-1.4zM524.0 101.3h1.4v1.4h-1.4zM538.5 101.8h1.4v1.4h-1.4zM539.5 100.6h1.4v1.4h-1.4zM535.6 100.4h1.4v1.4h-1.4zM531.4 104.7h1.4v1.4h-1.4zM512.4 101.6h1.4v1.4h-1.4zM537.2 103.1h1.4v1.4h-1.4zM520.6 106.0h1.4v1.4h-1.4zM539.1 105.5h1.4v1.4h-1.4zM516.6 97.4h1.4v1.4h-1.4zM520.2 105.0h1.4v1.4h-1.4zM527.7 108.0h1.4v1.4h-1.4zM539.5 104.5h1.4v1.4h-1.4zM525.7 102.9h1.4v1.4h-1.4zM532.8 98.9h1.4v1.4h-1.4zM519.5 95.9h1.4v1.4h-1.4zM525.8 93.9h1.4v1.4h-1.4zM534.0 101.1h1.4v1.4h-1.4zM514.6 106.9h1.4v1.4h-1.4zM520.1 97.4h1.4v1.4h-1.4zM531.7 98.1h1.4v1.4h-1.4zM530.4 109.7h1.4v1.4h-1.4zM512.8 106.6h1.4v1.4h-1.4zM523.2 105.7h1.4v1.4h-1.4zM539.0 106.5h1.4v1.4h-1.4zM526.8 108.5h1.4v1.4h-1.4zM515.0 98.8h1.4v1.4h-1.4zM532.2 100.6h1.4v1.4h-1.4zM522.7 108.9h1.4v1.4h-1.4zM530.2 100.9h1.4v1.4h-1.4zM515.9 105.6h1.4v1.4h-1.4zM537.9 104.8h1.4v1.4h-1.4zM513.7 100.0h1.4v1.4h-1.4zM515.1 106.4h1.4v1.4h-1.4zM540.1 93.2h1.4v1.4h-1.4zM523.4 106.1h1.4v1.4h-1.4zM523.9 104.0h1.4v1.4h-1.4zM532.6 109.2h1.4v1.4h-1.4zM529.6 102.8h1.4v1.4h-1.4zM516.1 103.4h1.4v1.4h-1.4zM529.9 105.5h1.4v1.4h-1.4zM523.3 111.9h1.4v1.4h-1.4zM525.5 101.8h1.4v1.4h-1.4zM518.2 102.2h1.4v1.4h-1.4zM529.2 103.8h1.4v1.4h-1.4zM535.4 100.4h1.4v1.4h-1.4zM514.1 102.8h1.4v1.4h-1.4zM513.6 100.6h1.4v1.4h-1.4zM513.9 93.6h1.4v1.4h-1.4zM512.3 105.8h1.4v1.4h-1.4zM532.4 102.2h1.4v1.4h-1.4zM522.7 111.3h1.4v1.4h-1.4zM531.0 103.2h1.4v1.4h-1.4zM528.0 97.4h1.4v1.4h-1.4zM526.6 104.1h1.4v1.4h-1.4zM524.1 96.7h1.4v1.4h-1.4zM516.4 101.6h1.4v1.4h-1.4zM523.3 101.5h1.4v1.4h-1.4zM534.8 101.8h1.4v1.4h-1.4zM532.3 99.7h1.4v1.4h-1.4zM527.9 108.9h1.4v1.4h-1.4zM523.9 98.4h1.4v1.4h-1.4zM515.9 107.9h1.4v1.4h-1.4zM536.3 96.6h1.4v1.4h-1.4zM535.8 101.8h1.4v1.4h-1.4zM518.3 102.5h1.4v1.4h-1.4zM516.2 96.0h1.4v1.4h-1.4zM528.3 92.6h1.4v1.4h-1.4zM522.2 99.3h1.4v1.4h-1.4zM518.8 99.7h1.4v1.4h-1.4zM518.5 104.3h1.4v1.4h-1.4zM527.4 112.4h1.4v1.4h-1.4zM567.2 101.0h1.4v1.4h-1.4zM557.5 103.1h1.4v1.4h-1.4zM549.2 95.2h1.4v1.4h-1.4zM548.5 101.4h1.4v1.4h-1.4zM558.7 105.2h1.4v1.4h-1.4zM559.2 104.6h1.4v1.4h-1.4zM544.2 99.5h1.4v1.4h-1.4zM554.8 102.0h1.4v1.4h-1.4zM567.3 94.1h1.4v1.4h-1.4zM564.1 98.7h1.4v1.4h-1.4zM545.2 108.3h1.4v1.4h-1.4zM544.8 100.6h1.4v1.4h-1.4zM566.3 98.8h1.4v1.4h-1.4zM570.1 102.8h1.4v1.4h-1.4zM558.4 101.4h1.4v1.4h-1.4zM564.7 98.5h1.4v1.4h-1.4zM543.5 101.4h1.4v1.4h-1.4zM542.2 105.4h1.4v1.4h-1.4zM559.3 101.9h1.4v1.4h-1.4zM562.7 104.8h1.4v1.4h-1.4zM554.4 105.9h1.4v1.4h-1.4zM567.5 96.9h1.4v1.4h-1.4zM558.4 109.1h1.4v1.4h-1.4zM546.8 96.4h1.4v1.4h-1.4zM563.8 96.8h1.4v1.4h-1.4zM561.9 107.6h1.4v1.4h-1.4zM566.2 104.2h1.4v1.4h-1.4zM563.5 104.1h1.4v1.4h-1.4zM569.8 100.8h1.4v1.4h-1.4zM559.6 99.6h1.4v1.4h-1.4zM544.7 93.1h1.4v1.4h-1.4zM545.1 98.5h1.4v1.4h-1.4zM569.1 99.4h1.4v1.4h-1.4zM547.5 97.9h1.4v1.4h-1.4zM555.0 104.2h1.4v1.4h-1.4zM545.2 95.8h1.4v1.4h-1.4zM542.4 107.4h1.4v1.4h-1.4zM547.3 106.3h1.4v1.4h-1.4zM558.2 99.3h1.4v1.4h-1.4zM553.0 107.8h1.4v1.4h-1.4zM546.1 105.1h1.4v1.4h-1.4zM562.1 97.0h1.4v1.4h-1.4zM565.6 101.7h1.4v1.4h-1.4zM551.9 100.8h1.4v1.4h-1.4zM546.3 91.7h1.4v1.4h-1.4zM565.4 100.9h1.4v1.4h-1.4zM542.8 104.5h1.4v1.4h-1.4zM561.8 108.7h1.4v1.4h-1.4zM553.4 98.3h1.4v1.4h-1.4zM566.7 101.4h1.4v1.4h-1.4zM553.4 105.4h1.4v1.4h-1.4zM544.0 96.5h1.4v1.4h-1.4zM551.5 103.0h1.4v1.4h-1.4zM559.2 110.5h1.4v1.4h-1.4zM543.1 103.1h1.4v1.4h-1.4zM555.6 104.8h1.4v1.4h-1.4zM558.8 97.7h1.4v1.4h-1.4zM542.0 103.8h1.4v1.4h-1.4zM558.9 100.5h1.4v1.4h-1.4zM555.4 101.8h1.4v1.4h-1.4zM570.9 103.5h1.4v1.4h-1.4zM561.6 101.7h1.4v1.4h-1.4zM549.8 100.2h1.4v1.4h-1.4zM549.5 106.4h1.4v1.4h-1.4zM558.6 89.6h1.4v1.4h-1.4zM571.1 99.0h1.4v1.4h-1.4zM542.8 93.7h1.4v1.4h-1.4zM567.5 98.1h1.4v1.4h-1.4zM564.6 96.6h1.4v1.4h-1.4zM552.5 96.2h1.4v1.4h-1.4zM550.1 103.6h1.4v1.4h-1.4zM569.5 92.0h1.4v1.4h-1.4zM561.9 98.4h1.4v1.4h-1.4zM563.6 108.4h1.4v1.4h-1.4zM556.8 98.2h1.4v1.4h-1.4zM558.0 97.8h1.4v1.4h-1.4zM553.8 104.9h1.4v1.4h-1.4zM551.3 102.5h1.4v1.4h-1.4zM571.0 96.6h1.4v1.4h-1.4zM549.0 101.5h1.4v1.4h-1.4zM548.7 99.5h1.4v1.4h-1.4zM542.0 103.0h1.4v1.4h-1.4zM567.5 96.2h1.4v1.4h-1.4zM558.6 102.5h1.4v1.4h-1.4zM550.7 101.8h1.4v1.4h-1.4zM550.7 102.5h1.4v1.4h-1.4zM550.9 100.1h1.4v1.4h-1.4zM569.5 95.2h1.4v1.4h-1.4zM551.8 106.4h1.4v1.4h-1.4zM544.2 98.1h1.4v1.4h-1.4zM547.1 89.1h1.4v1.4h-1.4zM552.3 94.4h1.4v1.4h-1.4zM564.6 92.7h1.4v1.4h-1.4zM543.8 105.0h1.4v1.4h-1.4zM556.1 104.0h1.4v1.4h-1.4zM549.4 98.8h1.4v1.4h-1.4zM542.5 102.9h1.4v1.4h-1.4zM562.6 104.1h1.4v1.4h-1.4zM548.2 98.5h1.4v1.4h-1.4zM559.6 102.8h1.4v1.4h-1.4zM567.3 99.2h1.4v1.4h-1.4zM563.4 98.6h1.4v1.4h-1.4zM559.5 110.3h1.4v1.4h-1.4zM596.3 104.0h1.4v1.4h-1.4zM576.9 98.0h1.4v1.4h-1.4zM578.4 91.9h1.4v1.4h-1.4zM591.4 98.8h1.4v1.4h-1.4zM599.6 102.0h1.4v1.4h-1.4zM594.6 105.0h1.4v1.4h-1.4zM591.7 95.3h1.4v1.4h-1.4zM582.7 104.9h1.4v1.4h-1.4zM574.7 99.8h1.4v1.4h-1.4zM591.0 101.7h1.4v1.4h-1.4zM582.6 94.8h1.4v1.4h-1.4zM580.4 101.2h1.4v1.4h-1.4zM586.3 111.4h1.4v1.4h-1.4zM589.2 101.9h1.4v1.4h-1.4zM601.4 107.0h1.4v1.4h-1.4zM593.9 103.2h1.4v1.4h-1.4zM582.5 103.2h1.4v1.4h-1.4zM577.1 102.5h1.4v1.4h-1.4zM595.1 108.1h1.4v1.4h-1.4zM585.2 105.5h1.4v1.4h-1.4zM588.5 96.0h1.4v1.4h-1.4zM591.9 97.9h1.4v1.4h-1.4zM590.3 97.3h1.4v1.4h-1.4zM580.4 107.6h1.4v1.4h-1.4zM593.5 101.7h1.4v1.4h-1.4zM581.9 93.1h1.4v1.4h-1.4zM595.3 106.0h1.4v1.4h-1.4zM581.0 100.3h1.4v1.4h-1.4zM588.1 103.3h1.4v1.4h-1.4zM573.3 100.1h1.4v1.4h-1.4zM586.7 96.6h1.4v1.4h-1.4zM583.4 94.4h1.4v1.4h-1.4zM601.5 102.1h1.4v1.4h-1.4zM575.6 108.7h1.4v1.4h-1.4zM573.8 102.1h1.4v1.4h-1.4zM587.5 102.2h1.4v1.4h-1.4zM589.0 105.5h1.4v1.4h-1.4zM583.5 110.9h1.4v1.4h-1.4zM577.3 104.3h1.4v1.4h-1.4zM599.5 107.8h1.4v1.4h-1.4zM577.7 108.8h1.4v1.4h-1.4zM580.0 102.4h1.4v1.4h-1.4zM601.3 94.5h1.4v1.4h-1.4zM582.9 101.0h1.4v1.4h-1.4zM596.1 97.1h1.4v1.4h-1.4zM599.0 102.0h1.4v1.4h-1.4zM576.1 100.8h1.4v1.4h-1.4zM591.6 99.3h1.4v1.4h-1.4zM584.6 102.1h1.4v1.4h-1.4zM589.2 99.8h1.4v1.4h-1.4zM584.8 110.7h1.4v1.4h-1.4zM591.1 95.6h1.4v1.4h-1.4zM579.5 101.0h1.4v1.4h-1.4zM585.5 104.6h1.4v1.4h-1.4zM579.7 103.2h1.4v1.4h-1.4zM591.5 108.4h1.4v1.4h-1.4zM581.6 104.2h1.4v1.4h-1.4zM589.4 100.9h1.4v1.4h-1.4zM577.5 107.1h1.4v1.4h-1.4zM580.7 94.0h1.4v1.4h-1.4zM594.6 102.7h1.4v1.4h-1.4zM582.5 97.6h1.4v1.4h-1.4zM587.0 103.1h1.4v1.4h-1.4zM592.7 99.3h1.4v1.4h-1.4zM590.2 95.2h1.4v1.4h-1.4zM598.4 102.8h1.4v1.4h-1.4zM579.0 104.2h1.4v1.4h-1.4zM595.5 98.1h1.4v1.4h-1.4zM597.9 104.8h1.4v1.4h-1.4zM601.7 109.4h1.4v1.4h-1.4zM581.6 103.2h1.4v1.4h-1.4zM601.1 101.3h1.4v1.4h-1.4zM573.3 103.2h1.4v1.4h-1.4zM594.2 99.6h1.4v1.4h-1.4zM575.8 104.4h1.4v1.4h-1.4zM575.6 107.1h1.4v1.4h-1.4zM582.8 107.4h1.4v1.4h-1.4zM598.4 97.4h1.4v1.4h-1.4zM601.2 104.3h1.4v1.4h-1.4zM595.8 101.7h1.4v1.4h-1.4zM592.9 106.3h1.4v1.4h-1.4zM579.7 102.3h1.4v1.4h-1.4zM585.4 101.7h1.4v1.4h-1.4zM601.5 101.6h1.4v1.4h-1.4zM582.1 102.7h1.4v1.4h-1.4zM587.0 99.4h1.4v1.4h-1.4zM576.9 98.4h1.4v1.4h-1.4zM592.7 102.3h1.4v1.4h-1.4zM577.3 100.6h1.4v1.4h-1.4zM576.2 95.6h1.4v1.4h-1.4zM583.2 90.7h1.4v1.4h-1.4zM583.1 101.2h1.4v1.4h-1.4zM579.2 110.3h1.4v1.4h-1.4zM594.1 99.1h1.4v1.4h-1.4zM580.9 102.6h1.4v1.4h-1.4zM575.0 104.2h1.4v1.4h-1.4zM574.2 96.3h1.4v1.4h-1.4zM589.0 100.7h1.4v1.4h-1.4zM583.4 108.0h1.4v1.4h-1.4zM591.8 101.5h1.4v1.4h-1.4zM581.1 111.3h1.4v1.4h-1.4zM584.8 114.0h1.4v1.4h-1.4zM594.5 111.1h1.4v1.4h-1.4zM161.4 131.5h1.4v1.4h-1.4zM175.0 128.5h1.4v1.4h-1.4zM187.1 136.0h1.4v1.4h-1.4zM206.1 168.9h1.4v1.4h-1.4zM224.5 144.2h1.4v1.4h-1.4zM268.6 154.1h1.4v1.4h-1.4zM256.8 183.7h1.4v1.4h-1.4zM283.6 135.7h1.4v1.4h-1.4zM343.4 130.0h1.4v1.4h-1.4zM353.3 168.6h1.4v1.4h-1.4zM369.6 128.8h1.4v1.4h-1.4zM385.9 141.2h1.4v1.4h-1.4zM396.5 133.6h1.4v1.4h-1.4zM401.0 139.0h1.4v1.4h-1.4zM389.9 171.6h1.4v1.4h-1.4zM426.1 149.9h1.4v1.4h-1.4zM431.5 133.0h1.4v1.4h-1.4zM433.0 128.8h1.4v1.4h-1.4zM564.9 121.2h1.4v1.4h-1.4zM587.8 119.1h1.4v1.4h-1.4zM589.6 128.2h1.4v1.4h-1.4zM181.3 88.5h1.4v1.4h-1.4zM203.1 89.7h1.4v1.4h-1.4zM219.1 80.0h1.4v1.4h-1.4zM229.9 84.5h1.4v1.4h-1.4zM240.8 91.1h1.4v1.4h-1.4zM256.5 89.9h1.4v1.4h-1.4zM278.5 90.5h1.4v1.4h-1.4zM280.9 87.6h1.4v1.4h-1.4zM283.0 85.5h1.4v1.4h-1.4zM285.2 84.0h1.4v1.4h-1.4zM292.7 88.2h1.4v1.4h-1.4zM295.7 93.0h1.4v1.4h-1.4zM303.5 89.1h1.4v1.4h-1.4zM314.4 81.8h1.4v1.4h-1.4zM327.4 92.0h1.4v1.4h-1.4zM330.7 83.3h1.4v1.4h-1.4zM345.8 89.9h1.4v1.4h-1.4zM362.1 82.1h1.4v1.4h-1.4zM369.3 93.0h1.4v1.4h-1.4zM373.6 94.5h1.4v1.4h-1.4zM387.4 83.7h1.4v1.4h-1.4zM412.5 86.1h1.4v1.4h-1.4zM425.5 87.0h1.4v1.4h-1.4zM445.1 84.6h1.4v1.4h-1.4zM452.3 82.4h1.4v1.4h-1.4zM476.5 88.2h1.4v1.4h-1.4zM487.0 74.0h1.4v1.4h-1.4zM484.9 78.8h1.4v1.4h-1.4zM495.5 81.6h1.4v1.4h-1.4zM537.7 86.1h1.4v1.4h-1.4zM539.3 84.6h1.4v1.4h-1.4zM548.9 81.6h1.4v1.4h-1.4zM552.3 84.6h1.4v1.4h-1.4zM552.9 87.6h1.4v1.4h-1.4zM563.4 91.1h1.4v1.4h-1.4zM589.6 90.5h1.4v1.4h-1.4z" fill="#1a84bf"/>
<line x1="165.3" y1="38.5" x2="165.3" y2="243.0" stroke="#7a7a7a" stroke-width="1"/>
<line x1="165.3" y1="201.5" x2="165.3" y2="214" stroke="#383838" stroke-width="1"/>
<line x1="190.9" y1="38.5" x2="190.9" y2="243.0" stroke="#7a7a7a" stroke-width="1"/>
<line x1="190.9" y1="201.5" x2="190.9" y2="214" stroke="#383838" stroke-width="1"/>
<line x1="218.3" y1="38.5" x2="218.3" y2="243.0" stroke="#7a7a7a" stroke-width="1"/>
<line x1="218.3" y1="201.5" x2="218.3" y2="214" stroke="#383838" stroke-width="1"/>
<line x1="243.2" y1="38.5" x2="243.2" y2="243.0" stroke="#7a7a7a" stroke-width="1"/>
<line x1="243.2" y1="201.5" x2="243.2" y2="214" stroke="#383838" stroke-width="1"/>
<line x1="272.2" y1="38.5" x2="272.2" y2="243.0" stroke="#7a7a7a" stroke-width="1"/>
<line x1="272.2" y1="201.5" x2="272.2" y2="214" stroke="#383838" stroke-width="1"/>
<line x1="300.4" y1="38.5" x2="300.4" y2="243.0" stroke="#7a7a7a" stroke-width="1"/>
<line x1="300.4" y1="201.5" x2="300.4" y2="214" stroke="#383838" stroke-width="1"/>
<line x1="332.5" y1="38.5" x2="332.5" y2="243.0" stroke="#7a7a7a" stroke-width="1"/>
<line x1="332.5" y1="201.5" x2="332.5" y2="214" stroke="#383838" stroke-width="1"/>
<line x1="359.3" y1="38.5" x2="359.3" y2="243.0" stroke="#7a7a7a" stroke-width="1"/>
<line x1="359.3" y1="201.5" x2="359.3" y2="214" stroke="#383838" stroke-width="1"/>
<line x1="389.9" y1="38.5" x2="389.9" y2="243.0" stroke="#7a7a7a" stroke-width="1"/>
<line x1="389.9" y1="201.5" x2="389.9" y2="214" stroke="#383838" stroke-width="1"/>
<line x1="419.4" y1="38.5" x2="419.4" y2="243.0" stroke="#7a7a7a" stroke-width="1"/>
<line x1="419.4" y1="201.5" x2="419.4" y2="214" stroke="#383838" stroke-width="1"/>
<line x1="450.4" y1="38.5" x2="450.4" y2="243.0" stroke="#7a7a7a" stroke-width="1"/>
<line x1="450.4" y1="201.5" x2="450.4" y2="214" stroke="#383838" stroke-width="1"/>
<line x1="479.7" y1="38.5" x2="479.7" y2="243.0" stroke="#7a7a7a" stroke-width="1"/>
<line x1="479.7" y1="201.5" x2="479.7" y2="214" stroke="#383838" stroke-width="1"/>
<line x1="511.6" y1="38.5" x2="511.6" y2="243.0" stroke="#7a7a7a" stroke-width="1"/>
<line x1="511.6" y1="201.5" x2="511.6" y2="214" stroke="#383838" stroke-width="1"/>
<line x1="541.3" y1="38.5" x2="541.3" y2="243.0" stroke="#7a7a7a" stroke-width="1"/>
<line x1="541.3" y1="201.5" x2="541.3" y2="214" stroke="#383838" stroke-width="1"/>
<line x1="572.5" y1="38.5" x2="572.5" y2="243.0" stroke="#7a7a7a" stroke-width="1"/>
<line x1="572.5" y1="201.5" x2="572.5" y2="214" stroke="#383838" stroke-width="1"/>
<rect x="157.5" y="38.5" width="445.5" height="205.0" fill="none" stroke="#6e6e6e" stroke-width="1"/>
<line x1="152.5" y1="243.0" x2="156" y2="243.0" stroke="#e0e0e0" stroke-width="1"/>
<text x="151" y="246.4" text-anchor="end" font-size="10.4">0</text>
<line x1="152.5" y1="213.8" x2="156" y2="213.8" stroke="#e0e0e0" stroke-width="1"/>
<text x="151" y="217.4" text-anchor="end" font-size="10.4">500</text>
<line x1="152.5" y1="184.6" x2="156" y2="184.6" stroke="#e0e0e0" stroke-width="1"/>
<text x="151" y="188.7" text-anchor="end" font-size="10.4">1000</text>
<line x1="152.5" y1="155.4" x2="156" y2="155.4" stroke="#e0e0e0" stroke-width="1"/>
<text x="151" y="159.0" text-anchor="end" font-size="10.4">1500</text>
<line x1="152.5" y1="126.1" x2="156" y2="126.1" stroke="#e0e0e0" stroke-width="1"/>
<text x="151" y="129.2" text-anchor="end" font-size="10.4">2000</text>
<line x1="152.5" y1="96.9" x2="156" y2="96.9" stroke="#e0e0e0" stroke-width="1"/>
<text x="151" y="100.5" text-anchor="end" font-size="10.4">2500</text>
<line x1="152.5" y1="67.7" x2="156" y2="67.7" stroke="#e0e0e0" stroke-width="1"/>
<text x="151" y="72.2" text-anchor="end" font-size="10.4">3000</text>
<line x1="152.5" y1="38.5" x2="156" y2="38.5" stroke="#e0e0e0" stroke-width="1"/>
<text x="151" y="43.0" text-anchor="end" font-size="10.4">3500</text>
<line x1="190.6" y1="246" x2="190.6" y2="256" stroke="#b8b8b8" stroke-width="1" stroke-dasharray="4,2"/>
<line x1="242.6" y1="246" x2="242.6" y2="256" stroke="#b8b8b8" stroke-width="1" stroke-dasharray="4,2"/>
<line x1="299.7" y1="246" x2="299.7" y2="256" stroke="#b8b8b8" stroke-width="1" stroke-dasharray="4,2"/>
<line x1="357.9" y1="246" x2="357.9" y2="256" stroke="#b8b8b8" stroke-width="1" stroke-dasharray="4,2"/>
<line x1="419.4" y1="246" x2="419.4" y2="256" stroke="#b8b8b8" stroke-width="1" stroke-dasharray="4,2"/>
<line x1="478.8" y1="246" x2="478.8" y2="256" stroke="#b8b8b8" stroke-width="1" stroke-dasharray="4,2"/>
<line x1="539.5" y1="246" x2="539.5" y2="256" stroke="#b8b8b8" stroke-width="1" stroke-dasharray="4,2"/>
<text x="170" y="258.6" text-anchor="middle" font-size="10.2">61.1</text>
<text x="217.6" y="258.6" text-anchor="middle" font-size="10.2">60.9</text>
<text x="273.7" y="258.6" text-anchor="middle" font-size="10.2">60.5</text>
<text x="330.6" y="258.6" text-anchor="middle" font-size="10.2">60.0</text>
<text x="391.1" y="258.6" text-anchor="middle" font-size="10.2">59.3</text>
<text x="453.5" y="258.6" text-anchor="middle" font-size="10.2">58.7</text>
<text x="513.2" y="258.6" text-anchor="middle" font-size="10.2">58.3</text>
<text x="575.6" y="258.6" text-anchor="middle" font-size="10.2">58.0</text>
<text x="380.3" y="289" text-anchor="middle" font-size="12.8" font-weight="bold">Annealing Temperature (°C)</text>
<text transform="translate(112.5,135.4) rotate(-90)" text-anchor="middle" font-size="12.6" font-weight="bold">Amplitude</text>
<text x="19.4" y="18.2" font-size="18" font-weight="bold">A</text>
<text x="20.6" y="296.8" font-size="18.2" font-weight="bold">B</text>
<rect x="57.3" y="342.5" width="674.3000000000001" height="143.3" fill="#f3f3f3"/>
<line x1="57.3" y1="471.3" x2="731.6" y2="471.3" stroke="#cfcfcf" stroke-width="1"/>
<line x1="57.3" y1="456.8" x2="731.6" y2="456.8" stroke="#cfcfcf" stroke-width="1"/>
<line x1="57.3" y1="442.4" x2="731.6" y2="442.4" stroke="#cfcfcf" stroke-width="1"/>
<line x1="57.3" y1="428.6" x2="731.6" y2="428.6" stroke="#cfcfcf" stroke-width="1"/>
<line x1="57.3" y1="414.6" x2="731.6" y2="414.6" stroke="#cfcfcf" stroke-width="1"/>
<line x1="57.3" y1="399.7" x2="731.6" y2="399.7" stroke="#cfcfcf" stroke-width="1"/>
<line x1="57.3" y1="385.6" x2="731.6" y2="385.6" stroke="#cfcfcf" stroke-width="1"/>
<line x1="57.3" y1="371.6" x2="731.6" y2="371.6" stroke="#cfcfcf" stroke-width="1"/>
<line x1="57.3" y1="357.4" x2="731.6" y2="357.4" stroke="#cfcfcf" stroke-width="1"/>
<line x1="99.4" y1="342.5" x2="99.4" y2="485.8" stroke="#cfcfcf" stroke-width="1"/>
<line x1="141.6" y1="342.5" x2="141.6" y2="485.8" stroke="#cfcfcf" stroke-width="1"/>
<line x1="183.7" y1="342.5" x2="183.7" y2="485.8" stroke="#cfcfcf" stroke-width="1"/>
<line x1="225.9" y1="342.5" x2="225.9" y2="485.8" stroke="#cfcfcf" stroke-width="1"/>
<line x1="268.0" y1="342.5" x2="268.0" y2="485.8" stroke="#cfcfcf" stroke-width="1"/>
<line x1="310.2" y1="342.5" x2="310.2" y2="485.8" stroke="#cfcfcf" stroke-width="1"/>
<line x1="352.3" y1="342.5" x2="352.3" y2="485.8" stroke="#cfcfcf" stroke-width="1"/>
<line x1="394.5" y1="342.5" x2="394.5" y2="485.8" stroke="#cfcfcf" stroke-width="1"/>
<line x1="436.6" y1="342.5" x2="436.6" y2="485.8" stroke="#cfcfcf" stroke-width="1"/>
<line x1="478.7" y1="342.5" x2="478.7" y2="485.8" stroke="#cfcfcf" stroke-width="1"/>
<line x1="520.9" y1="342.5" x2="520.9" y2="485.8" stroke="#cfcfcf" stroke-width="1"/>
<line x1="563.0" y1="342.5" x2="563.0" y2="485.8" stroke="#cfcfcf" stroke-width="1"/>
<line x1="605.2" y1="342.5" x2="605.2" y2="485.8" stroke="#cfcfcf" stroke-width="1"/>
<line x1="647.3" y1="342.5" x2="647.3" y2="485.8" stroke="#cfcfcf" stroke-width="1"/>
<line x1="689.5" y1="342.5" x2="689.5" y2="485.8" stroke="#cfcfcf" stroke-width="1"/>
<line x1="51" y1="485.8" x2="57.3" y2="485.8" stroke="#d0d0d0" stroke-width="1"/>
<text x="47.6" y="486.7" text-anchor="end" font-size="10">0</text>
<line x1="51" y1="471.3" x2="57.3" y2="471.3" stroke="#d0d0d0" stroke-width="1"/>
<line x1="51" y1="456.8" x2="57.3" y2="456.8" stroke="#d0d0d0" stroke-width="1"/>
<text x="47.6" y="460.3" text-anchor="end" font-size="10">2</text>
<line x1="51" y1="442.4" x2="57.3" y2="442.4" stroke="#d0d0d0" stroke-width="1"/>
<line x1="51" y1="428.6" x2="57.3" y2="428.6" stroke="#d0d0d0" stroke-width="1"/>
<text x="47.6" y="432.1" text-anchor="end" font-size="10">4</text>
<line x1="51" y1="414.6" x2="57.3" y2="414.6" stroke="#d0d0d0" stroke-width="1"/>
<line x1="51" y1="399.7" x2="57.3" y2="399.7" stroke="#d0d0d0" stroke-width="1"/>
<text x="47.6" y="403.9" text-anchor="end" font-size="10">6</text>
<line x1="51" y1="385.6" x2="57.3" y2="385.6" stroke="#d0d0d0" stroke-width="1"/>
<line x1="51" y1="371.6" x2="57.3" y2="371.6" stroke="#d0d0d0" stroke-width="1"/>
<text x="47.6" y="376.8" text-anchor="end" font-size="10">8</text>
<line x1="51" y1="357.4" x2="57.3" y2="357.4" stroke="#d0d0d0" stroke-width="1"/>
<line x1="51" y1="342.4" x2="57.3" y2="342.4" stroke="#d0d0d0" stroke-width="1"/>
<text x="47.6" y="346.6" text-anchor="end" font-size="10">10</text>
<line x1="78.4" y1="477.8" x2="78.4" y2="485.8" stroke="#cfcfcf" stroke-width="1"/>
<line x1="120.5" y1="477.8" x2="120.5" y2="485.8" stroke="#cfcfcf" stroke-width="1"/>
<line x1="162.7" y1="477.8" x2="162.7" y2="485.8" stroke="#cfcfcf" stroke-width="1"/>
<line x1="204.8" y1="477.8" x2="204.8" y2="485.8" stroke="#cfcfcf" stroke-width="1"/>
<line x1="246.9" y1="477.8" x2="246.9" y2="485.8" stroke="#cfcfcf" stroke-width="1"/>
<line x1="289.1" y1="477.8" x2="289.1" y2="485.8" stroke="#cfcfcf" stroke-width="1"/>
<line x1="331.2" y1="477.8" x2="331.2" y2="485.8" stroke="#cfcfcf" stroke-width="1"/>
<line x1="373.4" y1="477.8" x2="373.4" y2="485.8" stroke="#cfcfcf" stroke-width="1"/>
<line x1="415.5" y1="477.8" x2="415.5" y2="485.8" stroke="#cfcfcf" stroke-width="1"/>
<line x1="457.7" y1="477.8" x2="457.7" y2="485.8" stroke="#cfcfcf" stroke-width="1"/>
<line x1="499.8" y1="477.8" x2="499.8" y2="485.8" stroke="#cfcfcf" stroke-width="1"/>
<line x1="542.0" y1="477.8" x2="542.0" y2="485.8" stroke="#cfcfcf" stroke-width="1"/>
<line x1="584.1" y1="477.8" x2="584.1" y2="485.8" stroke="#cfcfcf" stroke-width="1"/>
<line x1="626.2" y1="477.8" x2="626.2" y2="485.8" stroke="#cfcfcf" stroke-width="1"/>
<line x1="668.4" y1="477.8" x2="668.4" y2="485.8" stroke="#cfcfcf" stroke-width="1"/>
<line x1="710.5" y1="477.8" x2="710.5" y2="485.8" stroke="#cfcfcf" stroke-width="1"/>
<line x1="78.4" y1="366.4" x2="78.4" y2="431.5" stroke="#8e8e8e" stroke-width="1"/>
<line x1="70.4" y1="366.4" x2="86.4" y2="366.4" stroke="#9a9a9a" stroke-width="1"/>
<line x1="70.4" y1="431.5" x2="86.4" y2="431.5" stroke="#9a9a9a" stroke-width="1"/>
<rect x="74.6" y="399.5" width="7.6" height="7.6" fill="#e4eff9" stroke="#3aa7f0" stroke-width="1.8"/>
<line x1="78.4" y1="400.4" x2="78.4" y2="406.2" stroke="#a9c2d8" stroke-width="1"/>
<text x="77.4" y="453.0" text-anchor="middle" font-size="11">5.76</text>
<line x1="120.5" y1="374.4" x2="120.5" y2="412.9" stroke="#8e8e8e" stroke-width="1"/>
<line x1="112.5" y1="374.4" x2="128.5" y2="374.4" stroke="#9a9a9a" stroke-width="1"/>
<line x1="112.5" y1="412.9" x2="128.5" y2="412.9" stroke="#9a9a9a" stroke-width="1"/>
<rect x="116.7" y="391.4" width="7.6" height="7.6" fill="#e4eff9" stroke="#3aa7f0" stroke-width="1.8"/>
<line x1="120.5" y1="392.3" x2="120.5" y2="398.1" stroke="#a9c2d8" stroke-width="1"/>
<text x="120.0" y="439.7" text-anchor="middle" font-size="11">6.32</text>
<line x1="162.7" y1="376" x2="162.7" y2="412.4" stroke="#8e8e8e" stroke-width="1"/>
<line x1="154.7" y1="376" x2="170.7" y2="376" stroke="#9a9a9a" stroke-width="1"/>
<line x1="154.7" y1="412.4" x2="170.7" y2="412.4" stroke="#9a9a9a" stroke-width="1"/>
<rect x="158.9" y="392.3" width="7.6" height="7.6" fill="#e4eff9" stroke="#3aa7f0" stroke-width="1.8"/>
<line x1="162.7" y1="393.2" x2="162.7" y2="399.0" stroke="#a9c2d8" stroke-width="1"/>
<text x="162.7" y="428.2" text-anchor="middle" font-size="11">6.26</text>
<line x1="204.8" y1="370.5" x2="204.8" y2="410.3" stroke="#8e8e8e" stroke-width="1"/>
<line x1="196.8" y1="370.5" x2="212.8" y2="370.5" stroke="#9a9a9a" stroke-width="1"/>
<line x1="196.8" y1="410.3" x2="212.8" y2="410.3" stroke="#9a9a9a" stroke-width="1"/>
<rect x="201.0" y="388.3" width="7.6" height="7.6" fill="#e4eff9" stroke="#3aa7f0" stroke-width="1.8"/>
<line x1="204.8" y1="389.2" x2="204.8" y2="395.0" stroke="#a9c2d8" stroke-width="1"/>
<text x="204.8" y="427.5" text-anchor="middle" font-size="11">6.54</text>
<line x1="246.9" y1="360.2" x2="246.9" y2="399.3" stroke="#8e8e8e" stroke-width="1"/>
<line x1="238.9" y1="360.2" x2="254.9" y2="360.2" stroke="#9a9a9a" stroke-width="1"/>
<line x1="238.9" y1="399.3" x2="254.9" y2="399.3" stroke="#9a9a9a" stroke-width="1"/>
<rect x="243.1" y="375.5" width="7.6" height="7.6" fill="#e4eff9" stroke="#3aa7f0" stroke-width="1.8"/>
<line x1="246.9" y1="376.4" x2="246.9" y2="382.2" stroke="#a9c2d8" stroke-width="1"/>
<text x="246.9" y="425.2" text-anchor="middle" font-size="11">7.43</text>
<line x1="289.1" y1="373.1" x2="289.1" y2="410.6" stroke="#8e8e8e" stroke-width="1"/>
<line x1="281.1" y1="373.1" x2="297.1" y2="373.1" stroke="#9a9a9a" stroke-width="1"/>
<line x1="281.1" y1="410.6" x2="297.1" y2="410.6" stroke="#9a9a9a" stroke-width="1"/>
<rect x="285.3" y="389.3" width="7.6" height="7.6" fill="#e4eff9" stroke="#3aa7f0" stroke-width="1.8"/>
<line x1="289.1" y1="390.2" x2="289.1" y2="396.0" stroke="#a9c2d8" stroke-width="1"/>
<text x="289.1" y="427.5" text-anchor="middle" font-size="11">6.47</text>
<line x1="331.2" y1="384.6" x2="331.2" y2="417.7" stroke="#8e8e8e" stroke-width="1"/>
<line x1="323.2" y1="384.6" x2="339.2" y2="384.6" stroke="#9a9a9a" stroke-width="1"/>
<line x1="323.2" y1="417.7" x2="339.2" y2="417.7" stroke="#9a9a9a" stroke-width="1"/>
<rect x="327.4" y="397.2" width="7.6" height="7.6" fill="#e4eff9" stroke="#3aa7f0" stroke-width="1.8"/>
<line x1="331.2" y1="398.1" x2="331.2" y2="403.9" stroke="#a9c2d8" stroke-width="1"/>
<text x="331.2" y="439.7" text-anchor="middle" font-size="11">5.92</text>
<line x1="373.4" y1="385.3" x2="373.4" y2="420" stroke="#8e8e8e" stroke-width="1"/>
<line x1="365.4" y1="385.3" x2="381.4" y2="385.3" stroke="#9a9a9a" stroke-width="1"/>
<line x1="365.4" y1="420" x2="381.4" y2="420" stroke="#9a9a9a" stroke-width="1"/>
<rect x="369.6" y="400.0" width="7.6" height="7.6" fill="#e4eff9" stroke="#3aa7f0" stroke-width="1.8"/>
<line x1="373.4" y1="400.9" x2="373.4" y2="406.7" stroke="#a9c2d8" stroke-width="1"/>
<text x="373.4" y="439.7" text-anchor="middle" font-size="11">5.72</text>
<line x1="415.5" y1="385.3" x2="415.5" y2="419.3" stroke="#8e8e8e" stroke-width="1"/>
<line x1="407.5" y1="385.3" x2="423.5" y2="385.3" stroke="#9a9a9a" stroke-width="1"/>
<line x1="407.5" y1="419.3" x2="423.5" y2="419.3" stroke="#9a9a9a" stroke-width="1"/>
<rect x="411.7" y="399.7" width="7.6" height="7.6" fill="#e4eff9" stroke="#3aa7f0" stroke-width="1.8"/>
<line x1="415.5" y1="400.6" x2="415.5" y2="406.4" stroke="#a9c2d8" stroke-width="1"/>
<text x="415.5" y="439.7" text-anchor="middle" font-size="11">5.74</text>
<line x1="457.7" y1="373.1" x2="457.7" y2="409.4" stroke="#8e8e8e" stroke-width="1"/>
<line x1="449.7" y1="373.1" x2="465.7" y2="373.1" stroke="#9a9a9a" stroke-width="1"/>
<line x1="449.7" y1="409.4" x2="465.7" y2="409.4" stroke="#9a9a9a" stroke-width="1"/>
<rect x="453.9" y="387.6" width="7.6" height="7.6" fill="#e4eff9" stroke="#3aa7f0" stroke-width="1.8"/>
<line x1="457.7" y1="388.5" x2="457.7" y2="394.3" stroke="#a9c2d8" stroke-width="1"/>
<text x="457.7" y="427.5" text-anchor="middle" font-size="11">6.59</text>
<line x1="499.8" y1="368.7" x2="499.8" y2="404.6" stroke="#8e8e8e" stroke-width="1"/>
<line x1="491.8" y1="368.7" x2="507.8" y2="368.7" stroke="#9a9a9a" stroke-width="1"/>
<line x1="491.8" y1="404.6" x2="507.8" y2="404.6" stroke="#9a9a9a" stroke-width="1"/>
<rect x="496.0" y="383.1" width="7.6" height="7.6" fill="#e4eff9" stroke="#3aa7f0" stroke-width="1.8"/>
<line x1="499.8" y1="384.0" x2="499.8" y2="389.8" stroke="#a9c2d8" stroke-width="1"/>
<text x="499.8" y="427.5" text-anchor="middle" font-size="11">6.9</text>
<line x1="542.0" y1="399.1" x2="542.0" y2="429.7" stroke="#8e8e8e" stroke-width="1"/>
<line x1="534.0" y1="399.1" x2="550.0" y2="399.1" stroke="#9a9a9a" stroke-width="1"/>
<line x1="534.0" y1="429.7" x2="550.0" y2="429.7" stroke="#9a9a9a" stroke-width="1"/>
<rect x="538.2" y="410.9" width="7.6" height="7.6" fill="#e4eff9" stroke="#3aa7f0" stroke-width="1.8"/>
<line x1="542.0" y1="411.8" x2="542.0" y2="417.6" stroke="#a9c2d8" stroke-width="1"/>
<text x="542.0" y="452.8" text-anchor="middle" font-size="11">4.89</text>
<line x1="584.1" y1="379.5" x2="584.1" y2="413.6" stroke="#8e8e8e" stroke-width="1"/>
<line x1="576.1" y1="379.5" x2="592.1" y2="379.5" stroke="#9a9a9a" stroke-width="1"/>
<line x1="576.1" y1="413.6" x2="592.1" y2="413.6" stroke="#9a9a9a" stroke-width="1"/>
<rect x="580.3" y="392.4" width="7.6" height="7.6" fill="#e4eff9" stroke="#3aa7f0" stroke-width="1.8"/>
<line x1="584.1" y1="393.3" x2="584.1" y2="399.1" stroke="#a9c2d8" stroke-width="1"/>
<text x="584.1" y="439.7" text-anchor="middle" font-size="11">6.25</text>
<line x1="626.2" y1="355.8" x2="626.2" y2="394.7" stroke="#8e8e8e" stroke-width="1"/>
<line x1="618.2" y1="355.8" x2="634.2" y2="355.8" stroke="#9a9a9a" stroke-width="1"/>
<line x1="618.2" y1="394.7" x2="634.2" y2="394.7" stroke="#9a9a9a" stroke-width="1"/>
<rect x="622.4" y="371.7" width="7.6" height="7.6" fill="#e4eff9" stroke="#3aa7f0" stroke-width="1.8"/>
<line x1="626.2" y1="372.6" x2="626.2" y2="378.4" stroke="#a9c2d8" stroke-width="1"/>
<text x="626.2" y="412.8" text-anchor="middle" font-size="11">7.7</text>
<line x1="668.4" y1="374.4" x2="668.4" y2="409.4" stroke="#8e8e8e" stroke-width="1"/>
<line x1="660.4" y1="374.4" x2="676.4" y2="374.4" stroke="#9a9a9a" stroke-width="1"/>
<line x1="660.4" y1="409.4" x2="676.4" y2="409.4" stroke="#9a9a9a" stroke-width="1"/>
<rect x="664.6" y="388.4" width="7.6" height="7.6" fill="#e4eff9" stroke="#3aa7f0" stroke-width="1.8"/>
<line x1="668.4" y1="389.3" x2="668.4" y2="395.1" stroke="#a9c2d8" stroke-width="1"/>
<text x="668.4" y="427.5" text-anchor="middle" font-size="11">6.53</text>
<line x1="710.5" y1="381.1" x2="710.5" y2="414.7" stroke="#8e8e8e" stroke-width="1"/>
<line x1="702.5" y1="381.1" x2="718.5" y2="381.1" stroke="#9a9a9a" stroke-width="1"/>
<line x1="702.5" y1="414.7" x2="718.5" y2="414.7" stroke="#9a9a9a" stroke-width="1"/>
<rect x="706.7" y="395.3" width="7.6" height="7.6" fill="#e4eff9" stroke="#3aa7f0" stroke-width="1.8"/>
<line x1="710.5" y1="396.2" x2="710.5" y2="402.0" stroke="#a9c2d8" stroke-width="1"/>
<text x="710.5" y="439.0" text-anchor="middle" font-size="11">6.05</text>
<rect x="57.3" y="342.5" width="674.3000000000001" height="143.3" fill="none" stroke="#333" stroke-width="1.3"/>
<line x1="140.6" y1="487.6" x2="140.6" y2="501.5" stroke="#b8b8b8" stroke-width="1" stroke-dasharray="3,2.2"/>
<line x1="225.4" y1="487.6" x2="225.4" y2="501.5" stroke="#b8b8b8" stroke-width="1" stroke-dasharray="3,2.2"/>
<line x1="309.4" y1="487.6" x2="309.4" y2="501.5" stroke="#b8b8b8" stroke-width="1" stroke-dasharray="3,2.2"/>
<line x1="393.4" y1="487.6" x2="393.4" y2="501.5" stroke="#b8b8b8" stroke-width="1" stroke-dasharray="3,2.2"/>
<line x1="477.2" y1="487.6" x2="477.2" y2="501.5" stroke="#b8b8b8" stroke-width="1" stroke-dasharray="3,2.2"/>
<line x1="561.5" y1="487.6" x2="561.5" y2="501.5" stroke="#b8b8b8" stroke-width="1" stroke-dasharray="3,2.2"/>
<line x1="646.2" y1="487.6" x2="646.2" y2="501.5" stroke="#b8b8b8" stroke-width="1" stroke-dasharray="3,2.2"/>
<text x="98.7" y="501.9" text-anchor="middle" font-size="10.5">61.1</text>
<text x="186.4" y="501.9" text-anchor="middle" font-size="10.5">60.9</text>
<text x="267.5" y="500.7" text-anchor="middle" font-size="10.5">60.5</text>
<text x="351.5" y="499.5" text-anchor="middle" font-size="10.5">60.0</text>
<text x="436.8" y="500.7" text-anchor="middle" font-size="10.5">59.3</text>
<text x="518.6" y="499.5" text-anchor="middle" font-size="10.5">58.7</text>
<text x="605.8" y="498.3" text-anchor="middle" font-size="10.5">58.3</text>
<text x="691.7" y="500.2" text-anchor="middle" font-size="10.5">58.0</text>
<text x="380.3" y="529" text-anchor="middle" font-size="12.8" font-weight="bold">Annealing Temperature (°C)</text>
<text transform="translate(13.6,418.2) rotate(-90)" text-anchor="middle" font-size="12.8" font-weight="bold">Concentration</text>
<text transform="translate(29.0,415.9) rotate(-90)" text-anchor="middle" font-size="12.85" font-weight="bold">(Copies/µl)</text>
</svg></body></html>
